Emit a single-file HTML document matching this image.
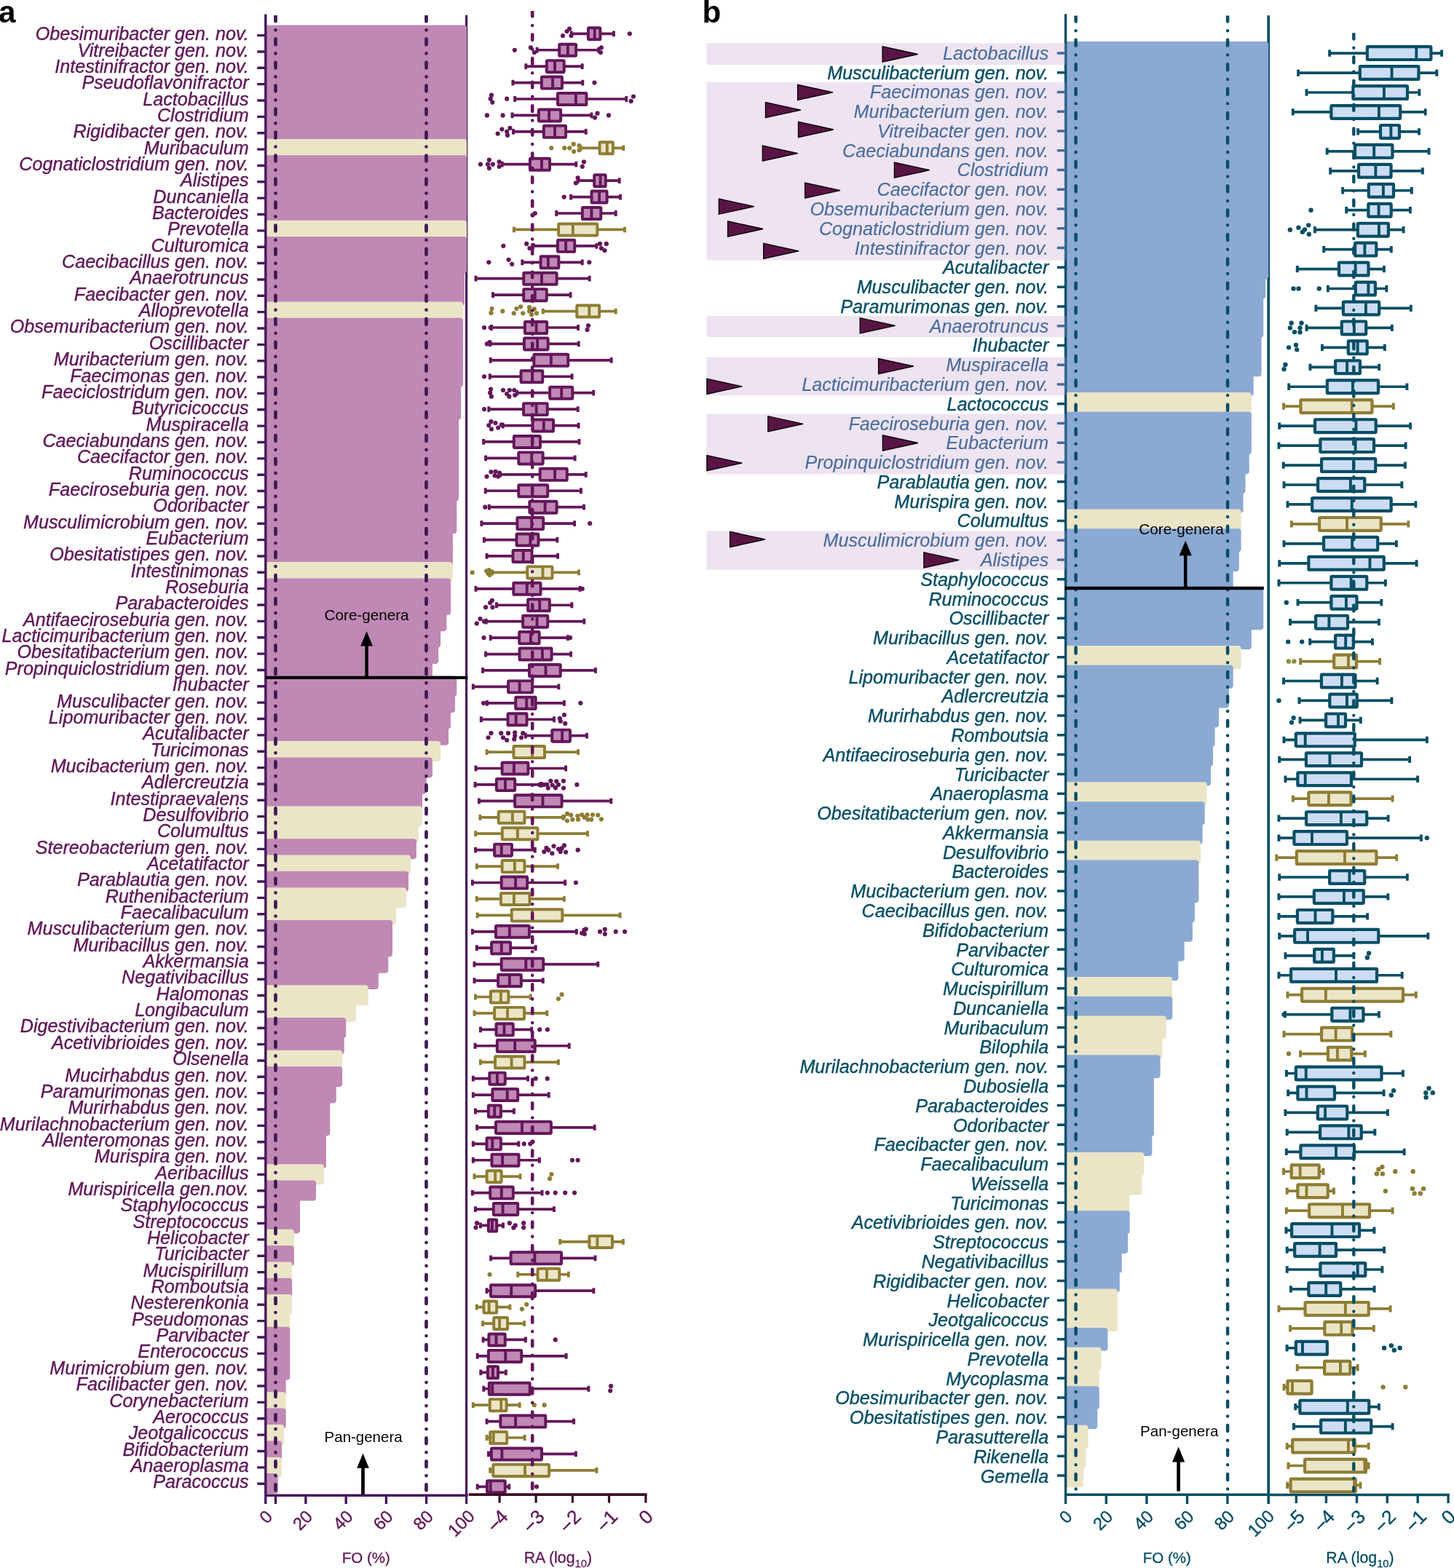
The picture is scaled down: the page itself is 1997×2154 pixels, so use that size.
<!DOCTYPE html>
<html lang="en"><head><meta charset="utf-8"><title>Figure</title>
<style>
html,body{margin:0;padding:0;background:#fff}
svg{display:block}
text{font-family:"Liberation Sans",Arial,Helvetica,sans-serif}
.la{font-style:italic;font-size:25.15px;fill:#5f1858;text-anchor:end;stroke:#5f1858;stroke-width:.4px}
.lb{font-style:italic;font-size:25.15px;fill:#074e65;text-anchor:end;stroke:#074e65;stroke-width:.4px}
.hl{fill:#466c9e;stroke:#466c9e;stroke-width:.12px}
.ta{font-size:26.5px;fill:#5f1858;text-anchor:end;stroke:#5f1858;stroke-width:.35px}
.tb{font-size:26.5px;fill:#074e65;text-anchor:end;stroke:#074e65;stroke-width:.35px}
.fo{font-size:24px}
.ann{font-size:20.3px;fill:#000}
.pl{font-weight:bold;font-size:42.3px;fill:#000}
</style></head>
<body>

<svg width="1997" height="2154" viewBox="0 0 1997 2154">
<rect width="1997" height="2154" fill="#fff"/>
<defs><clipPath id="cl-a"><rect x="360" y="21.1" width="300" height="2040"/></clipPath><clipPath id="cl-b"><rect x="1460" y="21.4" width="300" height="2040"/></clipPath><clipPath id="cl-ra"><rect x="700" y="15" width="60" height="2040"/></clipPath><clipPath id="cl-rb"><rect x="1830" y="45.3" width="60" height="2010"/></clipPath></defs>
<g id="panel-a">
<path d="M640.6 20.8V2066" stroke="#46175b" stroke-width="3.2" fill="none"/>
<g id="a-bars">
<path d="M364 34.4H638.6L641 36.8V60L638.6 62.4H364Z" fill="#c088b4"/>
<path d="M364 56.75H638.6L641 59.15V82.35L638.6 84.75H364Z" fill="#c088b4"/>
<path d="M364 79.11H638.6L641 81.51V104.71L638.6 107.11H364Z" fill="#c088b4"/>
<path d="M364 101.46H638.6L641 103.86V127.06L638.6 129.46H364Z" fill="#c088b4"/>
<path d="M364 123.82H638.6L641 126.22V149.42L638.6 151.82H364Z" fill="#c088b4"/>
<path d="M364 146.18H638.6L641 148.58V171.78L638.6 174.18H364Z" fill="#c088b4"/>
<path d="M364 168.53H638.6L641 170.93V194.13L638.6 196.53H364Z" fill="#c088b4"/>
<path d="M364 190.89H638.6L641 193.29V216.49L638.6 218.89H364Z" fill="#ebe5c8"/>
<path d="M364 213.24H638.6L641 215.64V238.84L638.6 241.24H364Z" fill="#c088b4"/>
<path d="M364 235.59H638.6L641 238V261.2L638.6 263.6H364Z" fill="#c088b4"/>
<path d="M364 257.95H638.6L641 260.35V283.55L638.6 285.95H364Z" fill="#c088b4"/>
<path d="M364 280.31H638.6L641 282.7V305.91L638.6 308.31H364Z" fill="#c088b4"/>
<path d="M364 302.66H638.6L641 305.06V328.26L638.6 330.66H364Z" fill="#ebe5c8"/>
<path d="M364 325.02H638.6L641 327.42V350.62L638.6 353.02H364Z" fill="#c088b4"/>
<path d="M364 347.37H638.6L641 349.77V372.97L638.6 375.37H364Z" fill="#c088b4"/>
<path d="M364 369.73H635.6L638 372.12V395.33L635.6 397.73H364Z" fill="#c088b4"/>
<path d="M364 392.08H635.6L638 394.48V417.68L635.6 420.08H364Z" fill="#c088b4"/>
<path d="M364 414.44H633.6L636 416.84V440.04L633.6 442.44H364Z" fill="#ebe5c8"/>
<path d="M364 436.79H633.6L636 439.19V462.39L633.6 464.79H364Z" fill="#c088b4"/>
<path d="M364 459.15H633.6L636 461.55V484.75L633.6 487.15H364Z" fill="#c088b4"/>
<path d="M364 481.5H633.6L636 483.9V507.1L633.6 509.5H364Z" fill="#c088b4"/>
<path d="M364 503.85H633.6L636 506.25V529.46L633.6 531.86H364Z" fill="#c088b4"/>
<path d="M364 526.21H630.8L633.2 528.61V551.81L630.8 554.21H364Z" fill="#c088b4"/>
<path d="M364 548.56H630.8L633.2 550.96V574.16L630.8 576.56H364Z" fill="#c088b4"/>
<path d="M364 570.92H627.8L630.2 573.32V596.52L627.8 598.92H364Z" fill="#c088b4"/>
<path d="M364 593.27H627.8L630.2 595.67V618.88L627.8 621.27H364Z" fill="#c088b4"/>
<path d="M364 615.63H627.8L630.2 618.03V641.23L627.8 643.63H364Z" fill="#c088b4"/>
<path d="M364 637.99H627.8L630.2 640.38V663.59L627.8 665.99H364Z" fill="#c088b4"/>
<path d="M364 660.34H627.8L630.2 662.74V685.94L627.8 688.34H364Z" fill="#c088b4"/>
<path d="M364 682.69H624.9L627.3 685.09V708.29L624.9 710.69H364Z" fill="#c088b4"/>
<path d="M364 705.05H624.9L627.3 707.45V730.65L624.9 733.05H364Z" fill="#c088b4"/>
<path d="M364 727.4H619.5L621.9 729.8V753L619.5 755.4H364Z" fill="#c088b4"/>
<path d="M364 749.76H619.5L621.9 752.16V775.36L619.5 777.76H364Z" fill="#c088b4"/>
<path d="M364 772.12H619.2L621.6 774.51V797.72L619.2 800.12H364Z" fill="#ebe5c8"/>
<path d="M364 794.47H616.6L619 796.87V820.07L616.6 822.47H364Z" fill="#c088b4"/>
<path d="M364 816.83H616.6L619 819.23V842.43L616.6 844.83H364Z" fill="#c088b4"/>
<path d="M364 839.18H611L613.4 841.58V864.78L611 867.18H364Z" fill="#c088b4"/>
<path d="M364 861.53H602.7L605.1 863.93V887.13L602.7 889.53H364Z" fill="#c088b4"/>
<path d="M364 883.89H599.8L602.2 886.29V909.49L599.8 911.89H364Z" fill="#c088b4"/>
<path d="M364 906.25H591.5L593.9 908.64V931.85L591.5 934.25H364Z" fill="#c088b4"/>
<path d="M364 928.6H624.9L627.3 931V954.2L624.9 956.6H364Z" fill="#c088b4"/>
<path d="M364 950.96H622.6L625 953.36V976.56L622.6 978.96H364Z" fill="#c088b4"/>
<path d="M364 973.31H616.6L619 975.71V998.91L616.6 1001.31H364Z" fill="#c088b4"/>
<path d="M364 995.66H613.6L616 998.06V1021.26L613.6 1023.66H364Z" fill="#c088b4"/>
<path d="M364 1018.02H602.7L605.1 1020.42V1043.62L602.7 1046.02H364Z" fill="#ebe5c8"/>
<path d="M364 1040.38H591.5L593.9 1042.78V1065.97L591.5 1068.38H364Z" fill="#c088b4"/>
<path d="M364 1062.73H583.3L585.7 1065.13V1088.33L583.3 1090.73H364Z" fill="#c088b4"/>
<path d="M364 1085.08H577.6L580 1087.48V1110.68L577.6 1113.08H364Z" fill="#c088b4"/>
<path d="M364 1107.44H577.6L580 1109.84V1133.04L577.6 1135.44H364Z" fill="#ebe5c8"/>
<path d="M364 1129.79H572.4L574.8 1132.19V1155.39L572.4 1157.79H364Z" fill="#ebe5c8"/>
<path d="M364 1152.15H569.5L571.9 1154.55V1177.75L569.5 1180.15H364Z" fill="#c088b4"/>
<path d="M364 1174.5H561.5L563.9 1176.9V1200.1L561.5 1202.5H364Z" fill="#ebe5c8"/>
<path d="M364 1196.86H558.6L561 1199.26V1222.46L558.6 1224.86H364Z" fill="#c088b4"/>
<path d="M364 1219.21H555.6L558 1221.62V1244.81L555.6 1247.21H364Z" fill="#ebe5c8"/>
<path d="M364 1241.57H541.8L544.2 1243.97V1267.17L541.8 1269.57H364Z" fill="#ebe5c8"/>
<path d="M364 1263.92H536.6L539 1266.33V1289.52L536.6 1291.92H364Z" fill="#c088b4"/>
<path d="M364 1286.28H536.6L539 1288.68V1311.88L536.6 1314.28H364Z" fill="#c088b4"/>
<path d="M364 1308.63H530.9L533.3 1311.04V1334.23L530.9 1336.63H364Z" fill="#c088b4"/>
<path d="M364 1330.99H517.4L519.8 1333.39V1356.59L517.4 1358.99H364Z" fill="#c088b4"/>
<path d="M364 1353.34H503.5L505.9 1355.74V1378.94L503.5 1381.34H364Z" fill="#ebe5c8"/>
<path d="M364 1375.7H486.7L489.1 1378.1V1401.3L486.7 1403.7H364Z" fill="#ebe5c8"/>
<path d="M364 1398.05H472.9L475.3 1400.45V1423.65L472.9 1426.05H364Z" fill="#c088b4"/>
<path d="M364 1420.41H470.3L472.7 1422.81V1446.01L470.3 1448.41H364Z" fill="#c088b4"/>
<path d="M364 1442.76H467.7L470.1 1445.16V1468.36L467.7 1470.76H364Z" fill="#ebe5c8"/>
<path d="M364 1465.12H467.7L470.1 1467.52V1490.72L467.7 1493.12H364Z" fill="#c088b4"/>
<path d="M364 1487.47H459.4L461.8 1489.88V1513.07L459.4 1515.47H364Z" fill="#c088b4"/>
<path d="M364 1509.83H450.9L453.3 1512.23V1535.43L450.9 1537.83H364Z" fill="#c088b4"/>
<path d="M364 1532.18H450.9L453.3 1534.59V1557.78L450.9 1560.18H364Z" fill="#c088b4"/>
<path d="M364 1554.54H445.5L447.9 1556.94V1580.14L445.5 1582.54H364Z" fill="#c088b4"/>
<path d="M364 1576.89H445.5L447.9 1579.3V1602.49L445.5 1604.89H364Z" fill="#c088b4"/>
<path d="M364 1599.25H442.6L445 1601.65V1624.85L442.6 1627.25H364Z" fill="#ebe5c8"/>
<path d="M364 1621.6H431.7L434.1 1624V1647.2L431.7 1649.6H364Z" fill="#c088b4"/>
<path d="M364 1643.96H409.7L412.1 1646.36V1669.56L409.7 1671.96H364Z" fill="#c088b4"/>
<path d="M364 1666.31H409.7L412.1 1668.71V1691.91L409.7 1694.31H364Z" fill="#c088b4"/>
<path d="M364 1688.67H401.5L403.9 1691.07V1714.27L401.5 1716.67H364Z" fill="#ebe5c8"/>
<path d="M364 1711.02H401.5L403.9 1713.42V1736.62L401.5 1739.02H364Z" fill="#c088b4"/>
<path d="M364 1733.38H398.8L401.2 1735.78V1758.98L398.8 1761.38H364Z" fill="#ebe5c8"/>
<path d="M364 1755.73H398.8L401.2 1758.13V1781.33L398.8 1783.73H364Z" fill="#c088b4"/>
<path d="M364 1778.09H398.8L401.2 1780.49V1803.69L398.8 1806.09H364Z" fill="#ebe5c8"/>
<path d="M364 1800.44H396L398.4 1802.85V1826.04L396 1828.44H364Z" fill="#ebe5c8"/>
<path d="M364 1822.8H396L398.4 1825.2V1848.4L396 1850.8H364Z" fill="#c088b4"/>
<path d="M364 1845.15H396L398.4 1847.56V1870.75L396 1873.15H364Z" fill="#c088b4"/>
<path d="M364 1867.51H396L398.4 1869.91V1893.11L396 1895.51H364Z" fill="#c088b4"/>
<path d="M364 1889.87H390.3L392.7 1892.27V1915.46L390.3 1917.87H364Z" fill="#c088b4"/>
<path d="M364 1912.22H390.3L392.7 1914.62V1937.82L390.3 1940.22H364Z" fill="#ebe5c8"/>
<path d="M364 1934.57H390.3L392.7 1936.97V1960.17L390.3 1962.57H364Z" fill="#c088b4"/>
<path d="M364 1956.93H387.7L390.1 1959.33V1982.53L387.7 1984.93H364Z" fill="#ebe5c8"/>
<path d="M364 1979.28H384.6L387 1981.68V2004.88L384.6 2007.28H364Z" fill="#c088b4"/>
<path d="M364 2001.64H384.6L387 2004.04V2027.24L384.6 2029.64H364Z" fill="#ebe5c8"/>
<path d="M364 2023.99H379.4L381.8 2026.39V2049.59L379.4 2051.99H364Z" fill="#c088b4"/>
</g>
<g id="a-labels">
<text class="la" x="341.7" y="55.2">Obesimuribacter gen. nov.</text>
<text class="la" x="341.7" y="77.55">Vitreibacter gen. nov.</text>
<text class="la" x="341.7" y="99.9">Intestinifractor gen. nov.</text>
<text class="la" x="341.7" y="122.25">Pseudoflavonifractor</text>
<text class="la" x="341.7" y="144.6">Lactobacillus</text>
<text class="la" x="341.7" y="166.94">Clostridium</text>
<text class="la" x="341.7" y="189.29">Rigidibacter gen. nov.</text>
<text class="la" x="341.7" y="211.64">Muribaculum</text>
<text class="la" x="341.7" y="233.99">Cognaticlostridium gen. nov.</text>
<text class="la" x="341.7" y="256.34">Alistipes</text>
<text class="la" x="341.7" y="278.69">Duncaniella</text>
<text class="la" x="341.7" y="301.04">Bacteroides</text>
<text class="la" x="341.7" y="323.39">Prevotella</text>
<text class="la" x="341.7" y="345.74">Culturomica</text>
<text class="la" x="341.7" y="368.09">Caecibacillus gen. nov.</text>
<text class="la" x="341.7" y="390.44">Anaerotruncus</text>
<text class="la" x="341.7" y="412.78">Faecibacter gen. nov.</text>
<text class="la" x="341.7" y="435.13">Alloprevotella</text>
<text class="la" x="341.7" y="457.48">Obsemuribacterium gen. nov.</text>
<text class="la" x="341.7" y="479.83">Oscillibacter</text>
<text class="la" x="341.7" y="502.18">Muribacterium gen. nov.</text>
<text class="la" x="341.7" y="524.53">Faecimonas gen. nov.</text>
<text class="la" x="341.7" y="546.88">Faeciclostridum gen. nov.</text>
<text class="la" x="341.7" y="569.23">Butyricicoccus</text>
<text class="la" x="341.7" y="591.58">Muspiracella</text>
<text class="la" x="341.7" y="613.93">Caeciabundans gen. nov.</text>
<text class="la" x="341.7" y="636.27">Caecifactor gen. nov.</text>
<text class="la" x="341.7" y="658.62">Ruminococcus</text>
<text class="la" x="341.7" y="680.97">Faeciroseburia gen. nov.</text>
<text class="la" x="341.7" y="703.32">Odoribacter</text>
<text class="la" x="341.7" y="725.67">Musculimicrobium gen. nov.</text>
<text class="la" x="341.7" y="748.02">Eubacterium</text>
<text class="la" x="341.7" y="770.37">Obesitatistipes gen. nov.</text>
<text class="la" x="341.7" y="792.72">Intestinimonas</text>
<text class="la" x="341.7" y="815.07">Roseburia</text>
<text class="la" x="341.7" y="837.42">Parabacteroides</text>
<text class="la" x="341.7" y="859.76">Antifaeciroseburia gen. nov.</text>
<text class="la" x="341.7" y="882.11">Lacticimuribacterium gen. nov.</text>
<text class="la" x="341.7" y="904.46">Obesitatibacterium gen. nov.</text>
<text class="la" x="341.7" y="926.81">Propinquiclostridium gen. nov.</text>
<text class="la" x="341.7" y="949.16">Ihubacter</text>
<text class="la" x="341.7" y="971.51">Musculibacter gen. nov.</text>
<text class="la" x="341.7" y="993.86">Lipomuribacter gen. nov.</text>
<text class="la" x="341.7" y="1016.21">Acutalibacter</text>
<text class="la" x="341.7" y="1038.56">Turicimonas</text>
<text class="la" x="341.7" y="1060.9">Mucibacterium gen. nov.</text>
<text class="la" x="341.7" y="1083.25">Adlercreutzia</text>
<text class="la" x="341.7" y="1105.6">Intestipraevalens</text>
<text class="la" x="341.7" y="1127.95">Desulfovibrio</text>
<text class="la" x="341.7" y="1150.3">Columultus</text>
<text class="la" x="341.7" y="1172.65">Stereobacterium gen. nov.</text>
<text class="la" x="341.7" y="1195">Acetatifactor</text>
<text class="la" x="341.7" y="1217.35">Parablautia gen. nov.</text>
<text class="la" x="341.7" y="1239.7">Ruthenibacterium</text>
<text class="la" x="341.7" y="1262.05">Faecalibaculum</text>
<text class="la" x="341.7" y="1284.39">Musculibacterium gen. nov.</text>
<text class="la" x="341.7" y="1306.74">Muribacillus gen. nov.</text>
<text class="la" x="341.7" y="1329.09">Akkermansia</text>
<text class="la" x="341.7" y="1351.44">Negativibacillus</text>
<text class="la" x="341.7" y="1373.79">Halomonas</text>
<text class="la" x="341.7" y="1396.14">Longibaculum</text>
<text class="la" x="341.7" y="1418.49">Digestivibacterium gen. nov.</text>
<text class="la" x="341.7" y="1440.84">Acetivibrioides gen. nov.</text>
<text class="la" x="341.7" y="1463.19">Olsenella</text>
<text class="la" x="341.7" y="1485.54">Mucirhabdus gen. nov.</text>
<text class="la" x="341.7" y="1507.88">Paramurimonas gen. nov.</text>
<text class="la" x="341.7" y="1530.23">Murirhabdus gen. nov.</text>
<text class="la" x="341.7" y="1552.58">Murilachnobacterium gen. nov.</text>
<text class="la" x="341.7" y="1574.93">Allenteromonas gen. nov.</text>
<text class="la" x="341.7" y="1597.28">Murispira gen. nov.</text>
<text class="la" x="341.7" y="1619.63">Aeribacillus</text>
<text class="la" x="341.7" y="1641.98">Murispiricella gen.nov.</text>
<text class="la" x="341.7" y="1664.33">Staphylococcus</text>
<text class="la" x="341.7" y="1686.68">Streptococcus</text>
<text class="la" x="341.7" y="1709.03">Helicobacter</text>
<text class="la" x="341.7" y="1731.38">Turicibacter</text>
<text class="la" x="341.7" y="1753.72">Mucispirillum</text>
<text class="la" x="341.7" y="1776.07">Romboutsia</text>
<text class="la" x="341.7" y="1798.42">Nesterenkonia</text>
<text class="la" x="341.7" y="1820.77">Pseudomonas</text>
<text class="la" x="341.7" y="1843.12">Parvibacter</text>
<text class="la" x="341.7" y="1865.47">Enterococcus</text>
<text class="la" x="341.7" y="1887.82">Murimicrobium gen. nov.</text>
<text class="la" x="341.7" y="1910.17">Facilibacter gen. nov.</text>
<text class="la" x="341.7" y="1932.52">Corynebacterium</text>
<text class="la" x="341.7" y="1954.87">Aerococcus</text>
<text class="la" x="341.7" y="1977.21">Jeotgalicoccus</text>
<text class="la" x="341.7" y="1999.56">Bifidobacterium</text>
<text class="la" x="341.7" y="2021.91">Anaeroplasma</text>
<text class="la" x="341.7" y="2044.26">Paracoccus</text>
</g>
<path d="M353.2 48.6H365M353.2 70.95H365M353.2 93.31H365M353.2 115.66H365M353.2 138.02H365M353.2 160.38H365M353.2 182.73H365M353.2 205.09H365M353.2 227.44H365M353.2 249.79H365M353.2 272.15H365M353.2 294.5H365M353.2 316.86H365M353.2 339.22H365M353.2 361.57H365M353.2 383.93H365M353.2 406.28H365M353.2 428.64H365M353.2 450.99H365M353.2 473.35H365M353.2 495.7H365M353.2 518.05H365M353.2 540.41H365M353.2 562.76H365M353.2 585.12H365M353.2 607.48H365M353.2 629.83H365M353.2 652.19H365M353.2 674.54H365M353.2 696.89H365M353.2 719.25H365M353.2 741.61H365M353.2 763.96H365M353.2 786.32H365M353.2 808.67H365M353.2 831.03H365M353.2 853.38H365M353.2 875.74H365M353.2 898.09H365M353.2 920.45H365M353.2 942.8H365M353.2 965.16H365M353.2 987.51H365M353.2 1009.87H365M353.2 1032.22H365M353.2 1054.58H365M353.2 1076.93H365M353.2 1099.28H365M353.2 1121.64H365M353.2 1143.99H365M353.2 1166.35H365M353.2 1188.7H365M353.2 1211.06H365M353.2 1233.41H365M353.2 1255.77H365M353.2 1278.12H365M353.2 1300.48H365M353.2 1322.84H365M353.2 1345.19H365M353.2 1367.54H365M353.2 1389.9H365M353.2 1412.25H365M353.2 1434.61H365M353.2 1456.96H365M353.2 1479.32H365M353.2 1501.67H365M353.2 1524.03H365M353.2 1546.38H365M353.2 1568.74H365M353.2 1591.1H365M353.2 1613.45H365M353.2 1635.8H365M353.2 1658.16H365M353.2 1680.51H365M353.2 1702.87H365M353.2 1725.22H365M353.2 1747.58H365M353.2 1769.93H365M353.2 1792.29H365M353.2 1814.64H365M353.2 1837H365M353.2 1859.36H365M353.2 1881.71H365M353.2 1904.07H365M353.2 1926.42H365M353.2 1948.77H365M353.2 1971.13H365M353.2 1993.48H365M353.2 2015.84H365M353.2 2038.19H365" stroke="#46175b" stroke-width="3.4" fill="none"/>
<path d="M378.5 15V2050.5" clip-path="url(#cl-a)" stroke="#3f1a52" stroke-width="4.7" stroke-linecap="round" stroke-dasharray="7.8 12.110 0.01 12.110" stroke-dashoffset="25.590" fill="none"/>
<path d="M585.5 15V2050.5" clip-path="url(#cl-a)" stroke="#3f1a52" stroke-width="4.7" stroke-linecap="round" stroke-dasharray="7.8 12.110 0.01 12.110" stroke-dashoffset="25.590" fill="none"/>
<path d="M503.6 931V886" stroke="#000" stroke-width="4.5" fill="none"/>
<path d="M503.6 867.2L511.9 887.4H495.3Z" fill="#000"/>
<text class="ann" x="445.6" y="851.6" textLength="116" lengthAdjust="spacingAndGlyphs">Core-genera</text>
<path d="M498.5 2054V2015" stroke="#000" stroke-width="4.7" fill="none"/>
<path d="M498.5 1996.4L506.8 2016.8H490.2Z" fill="#000"/>
<text class="ann" x="445.6" y="1981.2" textLength="107" lengthAdjust="spacingAndGlyphs">Pan-genera</text>
<path d="M364.8 19.5V2066M363.1 2054.3H642.7" stroke="#46175b" stroke-width="3.4" fill="none"/>
<path d="M378.5 2054V2066M419.9 2054V2066M475.2 2054V2066M530.4 2054V2066M585.6 2054V2066" stroke="#46175b" stroke-width="3.4" fill="none"/>
<path d="M365 930.9H642.4" stroke="#000" stroke-width="4.3" fill="none"/>
<text class="ta fo" transform="translate(375.7 2084.7) rotate(-45)">0</text>
<text class="ta fo" transform="translate(430.8 2084.7) rotate(-45)">20</text>
<text class="ta fo" transform="translate(486.1 2084.7) rotate(-45)">40</text>
<text class="ta fo" transform="translate(541.3 2084.7) rotate(-45)">60</text>
<text class="ta fo" transform="translate(596.5 2084.7) rotate(-45)">80</text>
<text class="ta fo" transform="translate(653.4 2084.2) rotate(-45)">100</text>
<text x="502.8" y="2147.3" style="font-size:20.5px;fill:#5f1858;text-anchor:middle;stroke:#5f1858;stroke-width:.3px">FO (%)</text>
<g id="a-ra">
<path d="M784.84 46.3H807.93M824.39 46.3H842.98" stroke="#63165a" stroke-width="3.7" fill="none"/><path d="M784.84 42.4V50.2M842.98 42.4V50.2" stroke="#63165a" stroke-width="3.9" fill="none"/><rect x="807.93" y="38.27" width="16.47" height="16.05" rx="1.1" fill="#c088b4" stroke="#63165a" stroke-width="3.95"/><path d="M816.67 38.27V54.32" stroke="#63165a" stroke-width="3.9" fill="none"/><circle cx="773.06" cy="49.06" r="3.1" fill="#63165a"/><circle cx="778.58" cy="42.99" r="3.1" fill="#63165a"/><circle cx="782.08" cy="39.68" r="3.1" fill="#63165a"/><circle cx="784.47" cy="49.06" r="3.1" fill="#63165a"/><circle cx="864.88" cy="46.3" r="3.1" fill="#63165a"/>
<path d="M737.55 68.73H768.18M791.09 68.73H822.19" stroke="#63165a" stroke-width="3.7" fill="none"/><path d="M737.55 64.83V72.63M822.19 64.83V72.63" stroke="#63165a" stroke-width="3.9" fill="none"/><rect x="768.18" y="60.7" width="22.91" height="16.05" rx="1.1" fill="#c088b4" stroke="#63165a" stroke-width="3.95"/><path d="M779.87 60.7V76.75" stroke="#63165a" stroke-width="3.9" fill="none"/><circle cx="706.83" cy="68.73" r="3.1" fill="#63165a"/><circle cx="728.91" cy="65.42" r="3.1" fill="#63165a"/><circle cx="733.87" cy="72.04" r="3.1" fill="#63165a"/><circle cx="825.87" cy="65.42" r="3.1" fill="#63165a"/><circle cx="824.95" cy="72.04" r="3.1" fill="#63165a"/>
<path d="M722.28 91.15H750.89M774.72 91.15H799.74" stroke="#63165a" stroke-width="3.7" fill="none"/><path d="M722.28 87.25V95.05M799.74 87.25V95.05" stroke="#63165a" stroke-width="3.9" fill="none"/><rect x="750.89" y="83.13" width="23.83" height="16.05" rx="1.1" fill="#c088b4" stroke="#63165a" stroke-width="3.95"/><path d="M762.02 83.13V99.18" stroke="#63165a" stroke-width="3.9" fill="none"/>
<path d="M704.43 113.58H743.9M771.96 113.58H800.29" stroke="#63165a" stroke-width="3.7" fill="none"/><path d="M704.43 109.68V117.48M800.29 109.68V117.48" stroke="#63165a" stroke-width="3.9" fill="none"/><rect x="743.9" y="105.56" width="28.06" height="16.05" rx="1.1" fill="#c088b4" stroke="#63165a" stroke-width="3.95"/><path d="M759.08 105.56V121.61" stroke="#63165a" stroke-width="3.9" fill="none"/><circle cx="816.49" cy="113.58" r="3.1" fill="#63165a"/>
<path d="M707.19 136.01H765.97M805.44 136.01H860.28" stroke="#63165a" stroke-width="3.7" fill="none"/><path d="M707.19 132.11V139.91M860.28 132.11V139.91" stroke="#63165a" stroke-width="3.9" fill="none"/><rect x="765.97" y="127.98" width="39.47" height="16.05" rx="1.1" fill="#c088b4" stroke="#63165a" stroke-width="3.95"/><path d="M790.91 127.98V144.03" stroke="#63165a" stroke-width="3.9" fill="none"/><circle cx="675" cy="130.67" r="3.1" fill="#63165a"/><circle cx="673.71" cy="135.64" r="3.1" fill="#63165a"/><circle cx="676.28" cy="140.61" r="3.1" fill="#63165a"/><circle cx="696.15" cy="135.64" r="3.1" fill="#63165a"/><circle cx="870.03" cy="132.51" r="3.1" fill="#63165a"/><circle cx="866.72" cy="138.95" r="3.1" fill="#63165a"/>
<path d="M703.51 158.44H739.85M770.12 158.44H812.44" stroke="#63165a" stroke-width="3.7" fill="none"/><path d="M703.51 154.53V162.34M812.44 154.53V162.34" stroke="#63165a" stroke-width="3.9" fill="none"/><rect x="739.85" y="150.41" width="30.27" height="16.05" rx="1.1" fill="#c088b4" stroke="#63165a" stroke-width="3.95"/><path d="M754.11 150.41V166.46" stroke="#63165a" stroke-width="3.9" fill="none"/><circle cx="668.92" cy="158.44" r="3.1" fill="#63165a"/><circle cx="690.63" cy="158.44" r="3.1" fill="#63165a"/><circle cx="820.53" cy="155.68" r="3.1" fill="#63165a"/><circle cx="817.04" cy="161.56" r="3.1" fill="#63165a"/><circle cx="835.99" cy="158.44" r="3.1" fill="#63165a"/>
<path d="M704.99 180.86H746.84M777.11 180.86H804.71" stroke="#63165a" stroke-width="3.7" fill="none"/><path d="M704.99 176.96V184.76M804.71 176.96V184.76" stroke="#63165a" stroke-width="3.9" fill="none"/><rect x="746.84" y="172.84" width="30.27" height="16.05" rx="1.1" fill="#c088b4" stroke="#63165a" stroke-width="3.95"/><path d="M762.02 172.84V188.89" stroke="#63165a" stroke-width="3.9" fill="none"/><circle cx="683.64" cy="183.62" r="3.1" fill="#63165a"/><circle cx="689.35" cy="177.55" r="3.1" fill="#63165a"/><circle cx="696.15" cy="180.86" r="3.1" fill="#63165a"/><circle cx="697.07" cy="185.83" r="3.1" fill="#63165a"/><circle cx="700.39" cy="175.89" r="3.1" fill="#63165a"/>
<path d="M797.35 203.29H823.56M841.87 203.29H856.23" stroke="#8e7d34" stroke-width="3.7" fill="none"/><path d="M797.35 199.39V207.19M856.23 199.39V207.19" stroke="#8e7d34" stroke-width="3.9" fill="none"/><rect x="823.56" y="195.26" width="18.31" height="16.05" rx="1.1" fill="#ebe5c8" stroke="#8e7d34" stroke-width="3.95"/><path d="M833.78 195.26V211.31" stroke="#8e7d34" stroke-width="3.9" fill="none"/><circle cx="757.24" cy="203.29" r="3.1" fill="#8e7d34"/><circle cx="775.27" cy="203.29" r="3.1" fill="#8e7d34"/><circle cx="782.26" cy="203.29" r="3.1" fill="#8e7d34"/><circle cx="787.78" cy="197.95" r="3.1" fill="#8e7d34"/><circle cx="788.15" cy="208.07" r="3.1" fill="#8e7d34"/><circle cx="795.51" cy="200.16" r="3.1" fill="#8e7d34"/><circle cx="795.51" cy="206.23" r="3.1" fill="#8e7d34"/>
<path d="M689.71 225.72H727.89M755.03 225.72H791.28" stroke="#63165a" stroke-width="3.7" fill="none"/><path d="M689.71 221.82V229.62M791.28 221.82V229.62" stroke="#63165a" stroke-width="3.9" fill="none"/><rect x="727.89" y="217.69" width="27.14" height="16.05" rx="1.1" fill="#c088b4" stroke="#63165a" stroke-width="3.95"/><path d="M743.99 217.69V233.74" stroke="#63165a" stroke-width="3.9" fill="none"/><circle cx="659.91" cy="225.72" r="3.1" fill="#63165a"/><circle cx="671.87" cy="219.64" r="3.1" fill="#63165a"/><circle cx="670.03" cy="225.72" r="3.1" fill="#63165a"/><circle cx="671.87" cy="231.05" r="3.1" fill="#63165a"/><circle cx="676.84" cy="225.72" r="3.1" fill="#63165a"/><circle cx="685.67" cy="222.4" r="3.1" fill="#63165a"/><circle cx="685.67" cy="228.84" r="3.1" fill="#63165a"/><circle cx="801.95" cy="222.4" r="3.1" fill="#63165a"/><circle cx="799.74" cy="228.84" r="3.1" fill="#63165a"/>
<path d="M793.67 248.14H816.2M831.75 248.14H850.71" stroke="#63165a" stroke-width="3.7" fill="none"/><path d="M793.67 244.24V252.04M850.71 244.24V252.04" stroke="#63165a" stroke-width="3.9" fill="none"/><rect x="816.2" y="240.12" width="15.55" height="16.05" rx="1.1" fill="#c088b4" stroke="#63165a" stroke-width="3.95"/><path d="M824.58 240.12V256.17" stroke="#63165a" stroke-width="3.9" fill="none"/><circle cx="793.67" cy="244.46" r="3.1" fill="#63165a"/><circle cx="790.91" cy="251.45" r="3.1" fill="#63165a"/>
<path d="M784.1 270.57H812.52M833.59 270.57H852" stroke="#63165a" stroke-width="3.7" fill="none"/><path d="M784.1 266.67V274.47M852 266.67V274.47" stroke="#63165a" stroke-width="3.9" fill="none"/><rect x="812.52" y="262.55" width="21.07" height="16.05" rx="1.1" fill="#c088b4" stroke="#63165a" stroke-width="3.95"/><path d="M823.11 262.55V278.59" stroke="#63165a" stroke-width="3.9" fill="none"/><circle cx="774.72" cy="270.57" r="3.1" fill="#63165a"/>
<path d="M764.23 293H799.83M825.31 293H845.74" stroke="#63165a" stroke-width="3.7" fill="none"/><path d="M764.23 289.1V296.9M845.74 289.1V296.9" stroke="#63165a" stroke-width="3.9" fill="none"/><rect x="799.83" y="284.97" width="25.48" height="16.05" rx="1.1" fill="#c088b4" stroke="#63165a" stroke-width="3.95"/><path d="M812.44 284.97V301.02" stroke="#63165a" stroke-width="3.9" fill="none"/><circle cx="734.79" cy="293" r="3.1" fill="#63165a"/><circle cx="731.48" cy="295.57" r="3.1" fill="#63165a"/>
<path d="M705.91 315.42H767.08M820.35 315.42H858.07" stroke="#8e7d34" stroke-width="3.7" fill="none"/><path d="M705.91 311.52V319.32M858.07 311.52V319.32" stroke="#8e7d34" stroke-width="3.9" fill="none"/><rect x="767.08" y="307.4" width="53.27" height="16.05" rx="1.1" fill="#ebe5c8" stroke="#8e7d34" stroke-width="3.95"/><path d="M786.86 307.4V323.45" stroke="#8e7d34" stroke-width="3.9" fill="none"/>
<path d="M732.03 337.85H765.97M789.25 337.85H819.43" stroke="#63165a" stroke-width="3.7" fill="none"/><path d="M732.03 333.95V341.75M819.43 333.95V341.75" stroke="#63165a" stroke-width="3.9" fill="none"/><rect x="765.97" y="329.83" width="23.28" height="16.05" rx="1.1" fill="#c088b4" stroke="#63165a" stroke-width="3.95"/><path d="M777.11 329.83V345.88" stroke="#63165a" stroke-width="3.9" fill="none"/><circle cx="691.37" cy="337.85" r="3.1" fill="#63165a"/><circle cx="723.2" cy="334.91" r="3.1" fill="#63165a"/><circle cx="727.43" cy="340.98" r="3.1" fill="#63165a"/><circle cx="732.03" cy="336.93" r="3.1" fill="#63165a"/><circle cx="824.03" cy="334.91" r="3.1" fill="#63165a"/><circle cx="825.87" cy="340.98" r="3.1" fill="#63165a"/><circle cx="832.86" cy="334.91" r="3.1" fill="#63165a"/><circle cx="830.47" cy="344.11" r="3.1" fill="#63165a"/>
<path d="M717.31 360.28H742.61M767.36 360.28H799.74" stroke="#63165a" stroke-width="3.7" fill="none"/><path d="M717.31 356.38V364.18M799.74 356.38V364.18" stroke="#63165a" stroke-width="3.9" fill="none"/><rect x="742.61" y="352.25" width="24.75" height="16.05" rx="1.1" fill="#c088b4" stroke="#63165a" stroke-width="3.95"/><path d="M752.82 352.25V368.3" stroke="#63165a" stroke-width="3.9" fill="none"/><circle cx="671.32" cy="360.28" r="3.1" fill="#63165a"/><circle cx="698.55" cy="356.78" r="3.1" fill="#63165a"/><circle cx="703.15" cy="362.85" r="3.1" fill="#63165a"/><circle cx="809.31" cy="360.28" r="3.1" fill="#63165a"/>
<path d="M653.47 382.7H719.24M764.6 382.7H809.68" stroke="#63165a" stroke-width="3.7" fill="none"/><path d="M653.47 378.81V386.6M809.68 378.81V386.6" stroke="#63165a" stroke-width="3.9" fill="none"/><rect x="719.24" y="374.68" width="45.36" height="16.05" rx="1.1" fill="#c088b4" stroke="#63165a" stroke-width="3.95"/><path d="M743.99 374.68V390.73" stroke="#63165a" stroke-width="3.9" fill="none"/>
<path d="M677.02 405.13H719.24M750.8 405.13H783.55" stroke="#63165a" stroke-width="3.7" fill="none"/><path d="M677.02 401.23V409.03M783.55 401.23V409.03" stroke="#63165a" stroke-width="3.9" fill="none"/><rect x="719.24" y="397.11" width="31.56" height="16.05" rx="1.1" fill="#c088b4" stroke="#63165a" stroke-width="3.95"/><path d="M734.79 397.11V413.16" stroke="#63165a" stroke-width="3.9" fill="none"/>
<path d="M745.83 427.56H792.29M823.11 427.56H845.74" stroke="#8e7d34" stroke-width="3.7" fill="none"/><path d="M745.83 423.66V431.46M845.74 423.66V431.46" stroke="#8e7d34" stroke-width="3.9" fill="none"/><rect x="792.29" y="419.53" width="30.82" height="16.05" rx="1.1" fill="#ebe5c8" stroke="#8e7d34" stroke-width="3.95"/><path d="M809.31 419.53V435.58" stroke="#8e7d34" stroke-width="3.9" fill="none"/><circle cx="675.55" cy="424.06" r="3.1" fill="#8e7d34"/><circle cx="674.44" cy="429.95" r="3.1" fill="#8e7d34"/><circle cx="690.27" cy="427.38" r="3.1" fill="#8e7d34"/><circle cx="705.72" cy="430.32" r="3.1" fill="#8e7d34"/><circle cx="709.4" cy="424.06" r="3.1" fill="#8e7d34"/><circle cx="715.11" cy="421.3" r="3.1" fill="#8e7d34"/><circle cx="718.23" cy="430.32" r="3.1" fill="#8e7d34"/><circle cx="727.07" cy="422.22" r="3.1" fill="#8e7d34"/><circle cx="727.07" cy="427.56" r="3.1" fill="#8e7d34"/><circle cx="730.19" cy="432.16" r="3.1" fill="#8e7d34"/><circle cx="733.87" cy="424.43" r="3.1" fill="#8e7d34"/><circle cx="737" cy="430.32" r="3.1" fill="#8e7d34"/>
<path d="M675 449.99H720.9M751.17 449.99H794.04" stroke="#63165a" stroke-width="3.7" fill="none"/><path d="M675 446.09V453.89M794.04 446.09V453.89" stroke="#63165a" stroke-width="3.9" fill="none"/><rect x="720.9" y="441.96" width="30.27" height="16.05" rx="1.1" fill="#c088b4" stroke="#63165a" stroke-width="3.95"/><path d="M736.63 441.96V458.01" stroke="#63165a" stroke-width="3.9" fill="none"/><circle cx="665.06" cy="449.99" r="3.1" fill="#63165a"/><circle cx="673.71" cy="449.99" r="3.1" fill="#63165a"/><circle cx="808.02" cy="447.23" r="3.1" fill="#63165a"/><circle cx="806.55" cy="453.11" r="3.1" fill="#63165a"/>
<path d="M673.16 472.41H719.98M752.64 472.41H794.77" stroke="#63165a" stroke-width="3.7" fill="none"/><path d="M673.16 468.51V476.31M794.77 468.51V476.31" stroke="#63165a" stroke-width="3.9" fill="none"/><rect x="719.98" y="464.39" width="32.66" height="16.05" rx="1.1" fill="#c088b4" stroke="#63165a" stroke-width="3.95"/><path d="M738.1 464.39V480.44" stroke="#63165a" stroke-width="3.9" fill="none"/><circle cx="668.92" cy="472.41" r="3.1" fill="#63165a"/><circle cx="672.6" cy="470.21" r="3.1" fill="#63165a"/>
<path d="M673.71 494.84H733.41M780.24 494.84H839.67" stroke="#63165a" stroke-width="3.7" fill="none"/><path d="M673.71 490.94V498.74M839.67 490.94V498.74" stroke="#63165a" stroke-width="3.9" fill="none"/><rect x="733.41" y="486.81" width="46.83" height="16.05" rx="1.1" fill="#c088b4" stroke="#63165a" stroke-width="3.95"/><path d="M756.87 486.81V502.86" stroke="#63165a" stroke-width="3.9" fill="none"/>
<path d="M672.79 517.27H715.56M745.28 517.27H785.57" stroke="#63165a" stroke-width="3.7" fill="none"/><path d="M672.79 513.37V521.17M785.57 513.37V521.17" stroke="#63165a" stroke-width="3.9" fill="none"/><rect x="715.56" y="509.24" width="29.72" height="16.05" rx="1.1" fill="#c088b4" stroke="#63165a" stroke-width="3.95"/><path d="M731.11 509.24V525.29" stroke="#63165a" stroke-width="3.9" fill="none"/><circle cx="665.06" cy="517.27" r="3.1" fill="#63165a"/>
<path d="M709.95 539.69H755.12M786.31 539.69H815.2" stroke="#63165a" stroke-width="3.7" fill="none"/><path d="M709.95 535.79V543.59M815.2 535.79V543.59" stroke="#63165a" stroke-width="3.9" fill="none"/><rect x="755.12" y="531.67" width="31.19" height="16.05" rx="1.1" fill="#c088b4" stroke="#63165a" stroke-width="3.95"/><path d="M771.22 531.67V547.72" stroke="#63165a" stroke-width="3.9" fill="none"/><circle cx="674.08" cy="534.54" r="3.1" fill="#63165a"/><circle cx="673.16" cy="539.69" r="3.1" fill="#63165a"/><circle cx="675" cy="544.66" r="3.1" fill="#63165a"/><circle cx="691" cy="536.01" r="3.1" fill="#63165a"/><circle cx="696.15" cy="540.98" r="3.1" fill="#63165a"/><circle cx="699.28" cy="544.66" r="3.1" fill="#63165a"/><circle cx="699.83" cy="536.01" r="3.1" fill="#63165a"/><circle cx="706.27" cy="536.01" r="3.1" fill="#63165a"/><circle cx="707.19" cy="542.82" r="3.1" fill="#63165a"/>
<path d="M671.32 562.12H719.06M751.72 562.12H793.67" stroke="#63165a" stroke-width="3.7" fill="none"/><path d="M671.32 558.22V566.02M793.67 558.22V566.02" stroke="#63165a" stroke-width="3.9" fill="none"/><rect x="719.06" y="554.1" width="32.66" height="16.05" rx="1.1" fill="#c088b4" stroke="#63165a" stroke-width="3.95"/><path d="M736.63 554.1V570.15" stroke="#63165a" stroke-width="3.9" fill="none"/><circle cx="665.06" cy="562.12" r="3.1" fill="#63165a"/>
<path d="M690.63 584.55H731.57M760 584.55H794.59" stroke="#63165a" stroke-width="3.7" fill="none"/><path d="M690.63 580.65V588.45M794.59 580.65V588.45" stroke="#63165a" stroke-width="3.9" fill="none"/><rect x="731.57" y="576.52" width="28.43" height="16.05" rx="1.1" fill="#c088b4" stroke="#63165a" stroke-width="3.95"/><path d="M746.75 576.52V592.57" stroke="#63165a" stroke-width="3.9" fill="none"/><circle cx="674.44" cy="579.21" r="3.1" fill="#63165a"/><circle cx="671.32" cy="584.36" r="3.1" fill="#63165a"/><circle cx="675" cy="589.52" r="3.1" fill="#63165a"/><circle cx="680.52" cy="581.05" r="3.1" fill="#63165a"/><circle cx="684.2" cy="587.49" r="3.1" fill="#63165a"/><circle cx="688.79" cy="583.44" r="3.1" fill="#63165a"/>
<path d="M664.14 606.97H705.81M741.97 606.97H795.51" stroke="#63165a" stroke-width="3.7" fill="none"/><path d="M664.14 603.07V610.87M795.51 603.07V610.87" stroke="#63165a" stroke-width="3.9" fill="none"/><rect x="705.81" y="598.95" width="36.16" height="16.05" rx="1.1" fill="#c088b4" stroke="#63165a" stroke-width="3.95"/><path d="M731.11 598.95V615" stroke="#63165a" stroke-width="3.9" fill="none"/>
<path d="M667.08 629.4H712.25M745.65 629.4H789.62" stroke="#63165a" stroke-width="3.7" fill="none"/><path d="M667.08 625.5V633.3M789.62 625.5V633.3" stroke="#63165a" stroke-width="3.9" fill="none"/><rect x="712.25" y="621.38" width="33.4" height="16.05" rx="1.1" fill="#c088b4" stroke="#63165a" stroke-width="3.95"/><path d="M730.19 621.38V637.43" stroke="#63165a" stroke-width="3.9" fill="none"/>
<path d="M686.95 651.83H741.69M778.76 651.83H804.71" stroke="#63165a" stroke-width="3.7" fill="none"/><path d="M686.95 647.93V655.73M804.71 647.93V655.73" stroke="#63165a" stroke-width="3.9" fill="none"/><rect x="741.69" y="643.8" width="37.08" height="16.05" rx="1.1" fill="#c088b4" stroke="#63165a" stroke-width="3.95"/><path d="M762.02 643.8V659.85" stroke="#63165a" stroke-width="3.9" fill="none"/><circle cx="668.56" cy="654.59" r="3.1" fill="#63165a"/><circle cx="674.44" cy="648.33" r="3.1" fill="#63165a"/><circle cx="680.52" cy="647.78" r="3.1" fill="#63165a"/><circle cx="679.6" cy="653.3" r="3.1" fill="#63165a"/><circle cx="684.2" cy="654.59" r="3.1" fill="#63165a"/><circle cx="686.03" cy="649.62" r="3.1" fill="#63165a"/>
<path d="M666.72 674.26H712.25M752.27 674.26H797.9" stroke="#63165a" stroke-width="3.7" fill="none"/><path d="M666.72 670.36V678.16M797.9 670.36V678.16" stroke="#63165a" stroke-width="3.9" fill="none"/><rect x="712.25" y="666.23" width="40.02" height="16.05" rx="1.1" fill="#c088b4" stroke="#63165a" stroke-width="3.95"/><path d="M731.11 666.23V682.28" stroke="#63165a" stroke-width="3.9" fill="none"/>
<path d="M671.87 696.68H727.34M764.6 696.68H801.95" stroke="#63165a" stroke-width="3.7" fill="none"/><path d="M671.87 692.78V700.58M801.95 692.78V700.58" stroke="#63165a" stroke-width="3.9" fill="none"/><rect x="727.34" y="688.66" width="37.26" height="16.05" rx="1.1" fill="#c088b4" stroke="#63165a" stroke-width="3.95"/><path d="M748.59 688.66V704.71" stroke="#63165a" stroke-width="3.9" fill="none"/><circle cx="666.35" cy="696.68" r="3.1" fill="#63165a"/>
<path d="M661.38 719.11H710.41M746.2 719.11H789.07" stroke="#63165a" stroke-width="3.7" fill="none"/><path d="M661.38 715.21V723.01M789.07 715.21V723.01" stroke="#63165a" stroke-width="3.9" fill="none"/><rect x="710.41" y="711.08" width="35.79" height="16.05" rx="1.1" fill="#c088b4" stroke="#63165a" stroke-width="3.95"/><path d="M730.19 711.08V727.13" stroke="#63165a" stroke-width="3.9" fill="none"/><circle cx="810.23" cy="719.11" r="3.1" fill="#63165a"/>
<path d="M664.88 741.54H709.49M739.39 741.54H765.34" stroke="#63165a" stroke-width="3.7" fill="none"/><path d="M664.88 737.64V745.44M765.34 737.64V745.44" stroke="#63165a" stroke-width="3.9" fill="none"/><rect x="709.49" y="733.51" width="29.9" height="16.05" rx="1.1" fill="#c088b4" stroke="#63165a" stroke-width="3.95"/><path d="M728.35 733.51V749.56" stroke="#63165a" stroke-width="3.9" fill="none"/>
<path d="M668.56 763.96H704.52M730.56 763.96H766.07" stroke="#63165a" stroke-width="3.7" fill="none"/><path d="M668.56 760.06V767.86M766.07 760.06V767.86" stroke="#63165a" stroke-width="3.9" fill="none"/><rect x="704.52" y="755.94" width="26.04" height="16.05" rx="1.1" fill="#c088b4" stroke="#63165a" stroke-width="3.95"/><path d="M718.79 755.94V771.99" stroke="#63165a" stroke-width="3.9" fill="none"/>
<path d="M676.28 786.39H724.21M758.52 786.39H794.96" stroke="#8e7d34" stroke-width="3.7" fill="none"/><path d="M676.28 782.49V790.29M794.96 782.49V790.29" stroke="#8e7d34" stroke-width="3.9" fill="none"/><rect x="724.21" y="778.37" width="34.32" height="16.05" rx="1.1" fill="#ebe5c8" stroke="#8e7d34" stroke-width="3.95"/><path d="M745.46 778.37V794.42" stroke="#8e7d34" stroke-width="3.9" fill="none"/><circle cx="648.68" cy="786.39" r="3.1" fill="#8e7d34"/><circle cx="668.19" cy="784.37" r="3.1" fill="#8e7d34"/><circle cx="671.68" cy="783.08" r="3.1" fill="#8e7d34"/><circle cx="670.4" cy="787.68" r="3.1" fill="#8e7d34"/><circle cx="672.6" cy="789.89" r="3.1" fill="#8e7d34"/><circle cx="675" cy="785.84" r="3.1" fill="#8e7d34"/>
<path d="M653.47 808.82H705.26M742.52 808.82H796.43" stroke="#63165a" stroke-width="3.7" fill="none"/><path d="M653.47 804.92V812.72M796.43 804.92V812.72" stroke="#63165a" stroke-width="3.9" fill="none"/><rect x="705.26" y="800.79" width="37.26" height="16.05" rx="1.1" fill="#c088b4" stroke="#63165a" stroke-width="3.95"/><path d="M723.75 800.79V816.84" stroke="#63165a" stroke-width="3.9" fill="none"/><circle cx="799.74" cy="808.82" r="3.1" fill="#63165a"/>
<path d="M681.99 831.24H725.13M754.85 831.24H785.39" stroke="#63165a" stroke-width="3.7" fill="none"/><path d="M681.99 827.34V835.14M785.39 827.34V835.14" stroke="#63165a" stroke-width="3.9" fill="none"/><rect x="725.13" y="823.22" width="29.72" height="16.05" rx="1.1" fill="#c088b4" stroke="#63165a" stroke-width="3.95"/><path d="M741.23 823.22V839.27" stroke="#63165a" stroke-width="3.9" fill="none"/><circle cx="667.08" cy="834.19" r="3.1" fill="#63165a"/><circle cx="673.16" cy="828.12" r="3.1" fill="#63165a"/><circle cx="675.92" cy="824.81" r="3.1" fill="#63165a"/><circle cx="676.47" cy="834.19" r="3.1" fill="#63165a"/>
<path d="M667.64 853.67H718.14M752.27 853.67H802.32" stroke="#63165a" stroke-width="3.7" fill="none"/><path d="M667.64 849.77V857.57M802.32 849.77V857.57" stroke="#63165a" stroke-width="3.9" fill="none"/><rect x="718.14" y="845.65" width="34.13" height="16.05" rx="1.1" fill="#c088b4" stroke="#63165a" stroke-width="3.95"/><path d="M737.55 845.65V861.7" stroke="#63165a" stroke-width="3.9" fill="none"/><circle cx="654.76" cy="856.43" r="3.1" fill="#63165a"/><circle cx="659.54" cy="850.18" r="3.1" fill="#63165a"/><circle cx="665.06" cy="853.67" r="3.1" fill="#63165a"/>
<path d="M673.71 876.1H713.17M740.68 876.1H779.87" stroke="#63165a" stroke-width="3.7" fill="none"/><path d="M673.71 872.2V880M779.87 872.2V880" stroke="#63165a" stroke-width="3.9" fill="none"/><rect x="713.17" y="868.07" width="27.51" height="16.05" rx="1.1" fill="#c088b4" stroke="#63165a" stroke-width="3.95"/><path d="M728.91 868.07V884.12" stroke="#63165a" stroke-width="3.9" fill="none"/><circle cx="664.51" cy="876.1" r="3.1" fill="#63165a"/><circle cx="783.18" cy="876.1" r="3.1" fill="#63165a"/>
<path d="M667.08 898.53H713.54M757.61 898.53H784.1" stroke="#63165a" stroke-width="3.7" fill="none"/><path d="M667.08 894.63V902.43M784.1 894.63V902.43" stroke="#63165a" stroke-width="3.9" fill="none"/><rect x="713.54" y="890.5" width="44.07" height="16.05" rx="1.1" fill="#c088b4" stroke="#63165a" stroke-width="3.95"/><path d="M744.91 890.5V906.55" stroke="#63165a" stroke-width="3.9" fill="none"/>
<path d="M663.04 920.95H726.97M769.75 920.95H817.96" stroke="#63165a" stroke-width="3.7" fill="none"/><path d="M663.04 917.05V924.85M817.96 917.05V924.85" stroke="#63165a" stroke-width="3.9" fill="none"/><rect x="726.97" y="912.93" width="42.78" height="16.05" rx="1.1" fill="#c088b4" stroke="#63165a" stroke-width="3.95"/><path d="M749.51 912.93V928.98" stroke="#63165a" stroke-width="3.9" fill="none"/>
<path d="M649.79 943.38H698.08M731.11 943.38H767.36" stroke="#63165a" stroke-width="3.7" fill="none"/><path d="M649.79 939.48V947.28M767.36 939.48V947.28" stroke="#63165a" stroke-width="3.9" fill="none"/><rect x="698.08" y="935.35" width="33.03" height="16.05" rx="1.1" fill="#c088b4" stroke="#63165a" stroke-width="3.95"/><path d="M713.63 935.35V951.4" stroke="#63165a" stroke-width="3.9" fill="none"/>
<path d="M668.92 965.81H708.2M735.71 965.81H774.9" stroke="#63165a" stroke-width="3.7" fill="none"/><path d="M668.92 961.91V969.71M774.9 961.91V969.71" stroke="#63165a" stroke-width="3.9" fill="none"/><rect x="708.2" y="957.78" width="27.51" height="16.05" rx="1.1" fill="#c088b4" stroke="#63165a" stroke-width="3.95"/><path d="M723.2 957.78V973.83" stroke="#63165a" stroke-width="3.9" fill="none"/><circle cx="664.14" cy="965.81" r="3.1" fill="#63165a"/><circle cx="797.35" cy="965.81" r="3.1" fill="#63165a"/>
<path d="M660.83 988.23H697.53M723.57 988.23H760.92" stroke="#63165a" stroke-width="3.7" fill="none"/><path d="M660.83 984.33V992.13M760.92 984.33V992.13" stroke="#63165a" stroke-width="3.9" fill="none"/><rect x="697.53" y="980.21" width="26.04" height="16.05" rx="1.1" fill="#c088b4" stroke="#63165a" stroke-width="3.95"/><path d="M708.67 980.21V996.26" stroke="#63165a" stroke-width="3.9" fill="none"/><circle cx="768.83" cy="986.95" r="3.1" fill="#63165a"/><circle cx="769.75" cy="990.63" r="3.1" fill="#63165a"/><circle cx="774.9" cy="981.98" r="3.1" fill="#63165a"/><circle cx="776.19" cy="993.94" r="3.1" fill="#63165a"/>
<path d="M721.91 1010.66H758.25M783 1010.66H806" stroke="#63165a" stroke-width="3.7" fill="none"/><path d="M721.91 1006.76V1014.56M806 1006.76V1014.56" stroke="#63165a" stroke-width="3.9" fill="none"/><rect x="758.25" y="1002.64" width="24.75" height="16.05" rx="1.1" fill="#c088b4" stroke="#63165a" stroke-width="3.95"/><path d="M772.14 1002.64V1018.69" stroke="#63165a" stroke-width="3.9" fill="none"/><circle cx="670.58" cy="1013.24" r="3.1" fill="#63165a"/><circle cx="674.44" cy="1007.17" r="3.1" fill="#63165a"/><circle cx="688.24" cy="1007.17" r="3.1" fill="#63165a"/><circle cx="691" cy="1013.24" r="3.1" fill="#63165a"/><circle cx="696.15" cy="1016.73" r="3.1" fill="#63165a"/><circle cx="697.99" cy="1007.17" r="3.1" fill="#63165a"/><circle cx="706.27" cy="1015.44" r="3.1" fill="#63165a"/><circle cx="707.19" cy="1006.25" r="3.1" fill="#63165a"/><circle cx="707.19" cy="1010.84" r="3.1" fill="#63165a"/><circle cx="716.03" cy="1013.24" r="3.1" fill="#63165a"/><circle cx="718.23" cy="1007.17" r="3.1" fill="#63165a"/>
<path d="M668.56 1033.09H705.44M748.04 1033.09H794.04" stroke="#8e7d34" stroke-width="3.7" fill="none"/><path d="M668.56 1029.19V1036.99M794.04 1029.19V1036.99" stroke="#8e7d34" stroke-width="3.9" fill="none"/><rect x="705.44" y="1025.06" width="42.6" height="16.05" rx="1.1" fill="#ebe5c8" stroke="#8e7d34" stroke-width="3.95"/><path d="M731.11 1025.06V1041.11" stroke="#8e7d34" stroke-width="3.9" fill="none"/>
<path d="M653.47 1055.52H689.62M725.41 1055.52H777.11" stroke="#63165a" stroke-width="3.7" fill="none"/><path d="M653.47 1051.62V1059.42M777.11 1051.62V1059.42" stroke="#63165a" stroke-width="3.9" fill="none"/><rect x="689.62" y="1047.49" width="35.79" height="16.05" rx="1.1" fill="#c088b4" stroke="#63165a" stroke-width="3.95"/><path d="M705.91 1047.49V1063.54" stroke="#63165a" stroke-width="3.9" fill="none"/>
<path d="M652.55 1077.94H681.89M707.19 1077.94H743.07" stroke="#63165a" stroke-width="3.7" fill="none"/><path d="M652.55 1074.04V1081.84M743.07 1074.04V1081.84" stroke="#63165a" stroke-width="3.9" fill="none"/><rect x="681.89" y="1069.92" width="25.3" height="16.05" rx="1.1" fill="#c088b4" stroke="#63165a" stroke-width="3.95"/><path d="M693.95 1069.92V1085.97" stroke="#63165a" stroke-width="3.9" fill="none"/><circle cx="741.23" cy="1077.94" r="3.1" fill="#63165a"/><circle cx="746.75" cy="1077.94" r="3.1" fill="#63165a"/><circle cx="751.35" cy="1077.94" r="3.1" fill="#63165a"/><circle cx="752.82" cy="1082.54" r="3.1" fill="#63165a"/><circle cx="756.32" cy="1072.79" r="3.1" fill="#63165a"/><circle cx="758.71" cy="1078.49" r="3.1" fill="#63165a"/><circle cx="762.94" cy="1082.17" r="3.1" fill="#63165a"/><circle cx="764.23" cy="1073.34" r="3.1" fill="#63165a"/><circle cx="766.99" cy="1077.94" r="3.1" fill="#63165a"/><circle cx="773.98" cy="1072.79" r="3.1" fill="#63165a"/><circle cx="773.98" cy="1082.54" r="3.1" fill="#63165a"/><circle cx="792.38" cy="1077.94" r="3.1" fill="#63165a"/>
<path d="M657.88 1100.37H707.1M771.59 1100.37H839.3" stroke="#63165a" stroke-width="3.7" fill="none"/><path d="M657.88 1096.47V1104.27M839.3 1096.47V1104.27" stroke="#63165a" stroke-width="3.9" fill="none"/><rect x="707.1" y="1092.34" width="64.49" height="16.05" rx="1.1" fill="#c088b4" stroke="#63165a" stroke-width="3.95"/><path d="M745.46 1092.34V1108.39" stroke="#63165a" stroke-width="3.9" fill="none"/>
<path d="M659.36 1122.8H684.65M720.44 1122.8H773.43" stroke="#8e7d34" stroke-width="3.7" fill="none"/><path d="M659.36 1118.9V1126.7M773.43 1118.9V1126.7" stroke="#8e7d34" stroke-width="3.9" fill="none"/><rect x="684.65" y="1114.77" width="35.79" height="16.05" rx="1.1" fill="#ebe5c8" stroke="#8e7d34" stroke-width="3.95"/><path d="M703.88 1114.77V1130.82" stroke="#8e7d34" stroke-width="3.9" fill="none"/><circle cx="774.35" cy="1122.06" r="3.1" fill="#8e7d34"/><circle cx="778.95" cy="1117.83" r="3.1" fill="#8e7d34"/><circle cx="778.95" cy="1127.58" r="3.1" fill="#8e7d34"/><circle cx="784.1" cy="1119.67" r="3.1" fill="#8e7d34"/><circle cx="786.31" cy="1125.74" r="3.1" fill="#8e7d34"/><circle cx="793.3" cy="1120.77" r="3.1" fill="#8e7d34"/><circle cx="794.04" cy="1125.74" r="3.1" fill="#8e7d34"/><circle cx="799.19" cy="1119.3" r="3.1" fill="#8e7d34"/><circle cx="802.87" cy="1122.98" r="3.1" fill="#8e7d34"/><circle cx="806.55" cy="1119.3" r="3.1" fill="#8e7d34"/><circle cx="807.47" cy="1125.74" r="3.1" fill="#8e7d34"/><circle cx="812.07" cy="1125.74" r="3.1" fill="#8e7d34"/><circle cx="813.91" cy="1119.3" r="3.1" fill="#8e7d34"/><circle cx="821.27" cy="1119.67" r="3.1" fill="#8e7d34"/><circle cx="825.87" cy="1125.37" r="3.1" fill="#8e7d34"/>
<path d="M653.1 1145.22H689.8M738.47 1145.22H806.92" stroke="#8e7d34" stroke-width="3.7" fill="none"/><path d="M653.1 1141.32V1149.12M806.92 1141.32V1149.12" stroke="#8e7d34" stroke-width="3.9" fill="none"/><rect x="689.8" y="1137.2" width="48.67" height="16.05" rx="1.1" fill="#ebe5c8" stroke="#8e7d34" stroke-width="3.95"/><path d="M710.87 1137.2V1153.25" stroke="#8e7d34" stroke-width="3.9" fill="none"/>
<path d="M653.1 1167.65H679.13M702.96 1167.65H734.79" stroke="#63165a" stroke-width="3.7" fill="none"/><path d="M653.1 1163.75V1171.55M734.79 1163.75V1171.55" stroke="#63165a" stroke-width="3.9" fill="none"/><rect x="679.13" y="1159.62" width="23.83" height="16.05" rx="1.1" fill="#c088b4" stroke="#63165a" stroke-width="3.95"/><path d="M688.79 1159.62V1175.67" stroke="#63165a" stroke-width="3.9" fill="none"/><circle cx="747.3" cy="1170.04" r="3.1" fill="#63165a"/><circle cx="750.43" cy="1164.89" r="3.1" fill="#63165a"/><circle cx="753.19" cy="1167.65" r="3.1" fill="#63165a"/><circle cx="758.34" cy="1172.25" r="3.1" fill="#63165a"/><circle cx="760.55" cy="1162.31" r="3.1" fill="#63165a"/><circle cx="766.99" cy="1166.36" r="3.1" fill="#63165a"/><circle cx="769.75" cy="1170.04" r="3.1" fill="#63165a"/><circle cx="771.59" cy="1165.44" r="3.1" fill="#63165a"/><circle cx="774.9" cy="1161.39" r="3.1" fill="#63165a"/><circle cx="777.11" cy="1170.59" r="3.1" fill="#63165a"/><circle cx="793.67" cy="1167.65" r="3.1" fill="#63165a"/>
<path d="M654.76 1190.08H689.62M720.44 1190.08H766.07" stroke="#8e7d34" stroke-width="3.7" fill="none"/><path d="M654.76 1186.18V1193.98M766.07 1186.18V1193.98" stroke="#8e7d34" stroke-width="3.9" fill="none"/><rect x="689.62" y="1182.05" width="30.82" height="16.05" rx="1.1" fill="#ebe5c8" stroke="#8e7d34" stroke-width="3.95"/><path d="M706.83 1182.05V1198.1" stroke="#8e7d34" stroke-width="3.9" fill="none"/>
<path d="M648.87 1212.5H688.7M724.12 1212.5H776.19" stroke="#63165a" stroke-width="3.7" fill="none"/><path d="M648.87 1208.6V1216.4M776.19 1208.6V1216.4" stroke="#63165a" stroke-width="3.9" fill="none"/><rect x="688.7" y="1204.48" width="35.42" height="16.05" rx="1.1" fill="#c088b4" stroke="#63165a" stroke-width="3.95"/><path d="M708.11 1204.48V1220.53" stroke="#63165a" stroke-width="3.9" fill="none"/><circle cx="790.91" cy="1212.5" r="3.1" fill="#63165a"/>
<path d="M654.76 1234.93H687.96M727.43 1234.93H774.9" stroke="#8e7d34" stroke-width="3.7" fill="none"/><path d="M654.76 1231.03V1238.83M774.9 1231.03V1238.83" stroke="#8e7d34" stroke-width="3.9" fill="none"/><rect x="687.96" y="1226.91" width="39.47" height="16.05" rx="1.1" fill="#ebe5c8" stroke="#8e7d34" stroke-width="3.95"/><path d="M705.91 1226.91V1242.96" stroke="#8e7d34" stroke-width="3.9" fill="none"/>
<path d="M655.68 1257.36H702.68M772.32 1257.36H851.63" stroke="#8e7d34" stroke-width="3.7" fill="none"/><path d="M655.68 1253.46V1261.26M851.63 1253.46V1261.26" stroke="#8e7d34" stroke-width="3.9" fill="none"/><rect x="702.68" y="1249.33" width="69.64" height="16.05" rx="1.1" fill="#ebe5c8" stroke="#8e7d34" stroke-width="3.95"/><path d="M731.11 1249.33V1265.38" stroke="#8e7d34" stroke-width="3.9" fill="none"/>
<path d="M648.87 1279.78H680.97M726.88 1279.78H791.83" stroke="#63165a" stroke-width="3.7" fill="none"/><path d="M648.87 1275.88V1283.68M791.83 1275.88V1283.68" stroke="#63165a" stroke-width="3.9" fill="none"/><rect x="680.97" y="1271.76" width="45.91" height="16.05" rx="1.1" fill="#c088b4" stroke="#63165a" stroke-width="3.95"/><path d="M699.83 1271.76V1287.81" stroke="#63165a" stroke-width="3.9" fill="none"/><circle cx="799.19" cy="1281.81" r="3.1" fill="#63165a"/><circle cx="802.5" cy="1277.58" r="3.1" fill="#63165a"/><circle cx="804.71" cy="1276.29" r="3.1" fill="#63165a"/><circle cx="802.87" cy="1283.1" r="3.1" fill="#63165a"/><circle cx="824.03" cy="1279.78" r="3.1" fill="#63165a"/><circle cx="830.84" cy="1276.66" r="3.1" fill="#63165a"/><circle cx="830.84" cy="1283.1" r="3.1" fill="#63165a"/><circle cx="845.74" cy="1279.78" r="3.1" fill="#63165a"/><circle cx="858.07" cy="1279.78" r="3.1" fill="#63165a"/>
<path d="M654.76 1302.21H675.08M701.12 1302.21H735.71" stroke="#63165a" stroke-width="3.7" fill="none"/><path d="M654.76 1298.31V1306.11M735.71 1298.31V1306.11" stroke="#63165a" stroke-width="3.9" fill="none"/><rect x="675.08" y="1294.19" width="26.04" height="16.05" rx="1.1" fill="#c088b4" stroke="#63165a" stroke-width="3.95"/><path d="M688.79 1294.19V1310.24" stroke="#63165a" stroke-width="3.9" fill="none"/>
<path d="M651.44 1324.64H688.7M746.2 1324.64H821.27" stroke="#63165a" stroke-width="3.7" fill="none"/><path d="M651.44 1320.74V1328.54M821.27 1320.74V1328.54" stroke="#63165a" stroke-width="3.9" fill="none"/><rect x="688.7" y="1316.61" width="57.5" height="16.05" rx="1.1" fill="#c088b4" stroke="#63165a" stroke-width="3.95"/><path d="M722.28 1316.61V1332.66" stroke="#63165a" stroke-width="3.9" fill="none"/>
<path d="M651.44 1347.07H684.1M715.84 1347.07H745.83" stroke="#63165a" stroke-width="3.7" fill="none"/><path d="M651.44 1343.17V1350.97M745.83 1343.17V1350.97" stroke="#63165a" stroke-width="3.9" fill="none"/><rect x="684.1" y="1339.04" width="31.74" height="16.05" rx="1.1" fill="#c088b4" stroke="#63165a" stroke-width="3.95"/><path d="M699.83 1339.04V1355.09" stroke="#63165a" stroke-width="3.9" fill="none"/>
<path d="M652.92 1369.49H673.98M698.36 1369.49H728.72" stroke="#8e7d34" stroke-width="3.7" fill="none"/><path d="M652.92 1365.59V1373.39M728.72 1365.59V1373.39" stroke="#8e7d34" stroke-width="3.9" fill="none"/><rect x="673.98" y="1361.47" width="24.38" height="16.05" rx="1.1" fill="#ebe5c8" stroke="#8e7d34" stroke-width="3.95"/><path d="M687.87 1361.47V1377.52" stroke="#8e7d34" stroke-width="3.9" fill="none"/><circle cx="766.99" cy="1372.07" r="3.1" fill="#8e7d34"/><circle cx="771.59" cy="1366.18" r="3.1" fill="#8e7d34"/>
<path d="M651.44 1391.92H679.13M720.07 1391.92H751.35" stroke="#8e7d34" stroke-width="3.7" fill="none"/><path d="M651.44 1388.02V1395.82M751.35 1388.02V1395.82" stroke="#8e7d34" stroke-width="3.9" fill="none"/><rect x="679.13" y="1383.89" width="40.94" height="16.05" rx="1.1" fill="#ebe5c8" stroke="#8e7d34" stroke-width="3.95"/><path d="M697.07 1383.89V1399.94" stroke="#8e7d34" stroke-width="3.9" fill="none"/>
<path d="M659.91 1414.35H681.52M704.8 1414.35H730.19" stroke="#63165a" stroke-width="3.7" fill="none"/><path d="M659.91 1410.45V1418.25M730.19 1410.45V1418.25" stroke="#63165a" stroke-width="3.9" fill="none"/><rect x="681.52" y="1406.32" width="23.28" height="16.05" rx="1.1" fill="#c088b4" stroke="#63165a" stroke-width="3.95"/><path d="M692.47 1406.32V1422.37" stroke="#63165a" stroke-width="3.9" fill="none"/><circle cx="741.23" cy="1414.35" r="3.1" fill="#63165a"/><circle cx="751.9" cy="1414.35" r="3.1" fill="#63165a"/>
<path d="M652.55 1436.77H682.81M734.79 1436.77H781.71" stroke="#63165a" stroke-width="3.7" fill="none"/><path d="M652.55 1432.87V1440.67M781.71 1432.87V1440.67" stroke="#63165a" stroke-width="3.9" fill="none"/><rect x="682.81" y="1428.75" width="51.98" height="16.05" rx="1.1" fill="#c088b4" stroke="#63165a" stroke-width="3.95"/><path d="M707.19 1428.75V1444.8" stroke="#63165a" stroke-width="3.9" fill="none"/>
<path d="M659.91 1459.2H680.05M720.44 1459.2H766.99" stroke="#8e7d34" stroke-width="3.7" fill="none"/><path d="M659.91 1455.3V1463.1M766.99 1455.3V1463.1" stroke="#8e7d34" stroke-width="3.9" fill="none"/><rect x="680.05" y="1451.18" width="40.39" height="16.05" rx="1.1" fill="#ebe5c8" stroke="#8e7d34" stroke-width="3.95"/><path d="M702.59 1451.18V1467.23" stroke="#8e7d34" stroke-width="3.9" fill="none"/>
<path d="M649.79 1481.63H672.32M693.76 1481.63H725.04" stroke="#63165a" stroke-width="3.7" fill="none"/><path d="M649.79 1477.73V1485.53M725.04 1477.73V1485.53" stroke="#63165a" stroke-width="3.9" fill="none"/><rect x="672.32" y="1473.6" width="21.44" height="16.05" rx="1.1" fill="#c088b4" stroke="#63165a" stroke-width="3.95"/><path d="M682.91 1473.6V1489.65" stroke="#63165a" stroke-width="3.9" fill="none"/><circle cx="735.71" cy="1481.63" r="3.1" fill="#63165a"/><circle cx="751.72" cy="1481.63" r="3.1" fill="#63165a"/>
<path d="M649.79 1504.05H676.37M711.24 1504.05H753.74" stroke="#63165a" stroke-width="3.7" fill="none"/><path d="M649.79 1500.15V1507.95M753.74 1500.15V1507.95" stroke="#63165a" stroke-width="3.9" fill="none"/><rect x="676.37" y="1496.03" width="34.87" height="16.05" rx="1.1" fill="#c088b4" stroke="#63165a" stroke-width="3.95"/><path d="M696.71 1496.03V1512.08" stroke="#63165a" stroke-width="3.9" fill="none"/>
<path d="M652.92 1526.48H670.85M687.87 1526.48H705.91" stroke="#63165a" stroke-width="3.7" fill="none"/><path d="M652.92 1522.58V1530.38M705.91 1522.58V1530.38" stroke="#63165a" stroke-width="3.9" fill="none"/><rect x="670.85" y="1518.46" width="17.02" height="16.05" rx="1.1" fill="#c088b4" stroke="#63165a" stroke-width="3.95"/><path d="M679.23 1518.46V1534.51" stroke="#63165a" stroke-width="3.9" fill="none"/>
<path d="M655.12 1548.91H680.97M756.87 1548.91H816.67" stroke="#63165a" stroke-width="3.7" fill="none"/><path d="M655.12 1545.01V1552.81M816.67 1545.01V1552.81" stroke="#63165a" stroke-width="3.9" fill="none"/><rect x="680.97" y="1540.88" width="75.9" height="16.05" rx="1.1" fill="#c088b4" stroke="#63165a" stroke-width="3.95"/><path d="M716.95 1540.88V1556.93" stroke="#63165a" stroke-width="3.9" fill="none"/>
<path d="M649.79 1571.34H668.46M687.87 1571.34H712.35" stroke="#63165a" stroke-width="3.7" fill="none"/><path d="M649.79 1567.44V1575.24M712.35 1567.44V1575.24" stroke="#63165a" stroke-width="3.9" fill="none"/><rect x="668.46" y="1563.31" width="19.41" height="16.05" rx="1.1" fill="#c088b4" stroke="#63165a" stroke-width="3.95"/><path d="M676.28 1563.31V1579.36" stroke="#63165a" stroke-width="3.9" fill="none"/><circle cx="719.71" cy="1571.34" r="3.1" fill="#63165a"/><circle cx="728.35" cy="1571.34" r="3.1" fill="#63165a"/><circle cx="731.48" cy="1568.58" r="3.1" fill="#63165a"/>
<path d="M649.79 1593.76H675.45M712.53 1593.76H740.86" stroke="#63165a" stroke-width="3.7" fill="none"/><path d="M649.79 1589.86V1597.66M740.86 1589.86V1597.66" stroke="#63165a" stroke-width="3.9" fill="none"/><rect x="675.45" y="1585.74" width="37.08" height="16.05" rx="1.1" fill="#c088b4" stroke="#63165a" stroke-width="3.95"/><path d="M690.08 1585.74V1601.79" stroke="#63165a" stroke-width="3.9" fill="none"/><circle cx="785.94" cy="1593.76" r="3.1" fill="#63165a"/><circle cx="793.67" cy="1593.76" r="3.1" fill="#63165a"/>
<path d="M651.44 1616.19H668.64M688.61 1616.19H714.55" stroke="#8e7d34" stroke-width="3.7" fill="none"/><path d="M651.44 1612.29V1620.09M714.55 1612.29V1620.09" stroke="#8e7d34" stroke-width="3.9" fill="none"/><rect x="668.64" y="1608.16" width="19.97" height="16.05" rx="1.1" fill="#ebe5c8" stroke="#8e7d34" stroke-width="3.95"/><path d="M680.15 1608.16V1624.21" stroke="#8e7d34" stroke-width="3.9" fill="none"/><circle cx="755.03" cy="1619.13" r="3.1" fill="#8e7d34"/><circle cx="757.42" cy="1613.06" r="3.1" fill="#8e7d34"/>
<path d="M648.87 1638.62H673.24M704.8 1638.62H744.54" stroke="#63165a" stroke-width="3.7" fill="none"/><path d="M648.87 1634.72V1642.52M744.54 1634.72V1642.52" stroke="#63165a" stroke-width="3.9" fill="none"/><rect x="673.24" y="1630.59" width="31.56" height="16.05" rx="1.1" fill="#c088b4" stroke="#63165a" stroke-width="3.95"/><path d="M688.79 1630.59V1646.64" stroke="#63165a" stroke-width="3.9" fill="none"/><circle cx="751.9" cy="1638.62" r="3.1" fill="#63165a"/><circle cx="762.76" cy="1638.62" r="3.1" fill="#63165a"/><circle cx="776.19" cy="1638.62" r="3.1" fill="#63165a"/><circle cx="789.07" cy="1638.62" r="3.1" fill="#63165a"/>
<path d="M652.92 1661.04H677.84M711.24 1661.04H760.92" stroke="#63165a" stroke-width="3.7" fill="none"/><path d="M652.92 1657.14V1664.94M760.92 1657.14V1664.94" stroke="#63165a" stroke-width="3.9" fill="none"/><rect x="677.84" y="1653.02" width="33.4" height="16.05" rx="1.1" fill="#c088b4" stroke="#63165a" stroke-width="3.95"/><path d="M690.63 1653.02V1669.07" stroke="#63165a" stroke-width="3.9" fill="none"/>
<path d="M659.91 1683.47H670.85M682.17 1683.47H691" stroke="#63165a" stroke-width="3.7" fill="none"/><path d="M659.91 1679.57V1687.37M691 1679.57V1687.37" stroke="#63165a" stroke-width="3.9" fill="none"/><rect x="670.85" y="1675.45" width="11.32" height="16.05" rx="1.1" fill="#c088b4" stroke="#63165a" stroke-width="3.95"/><path d="M675.92 1675.45V1691.5" stroke="#63165a" stroke-width="3.9" fill="none"/><circle cx="653.47" cy="1686.23" r="3.1" fill="#63165a"/><circle cx="655.12" cy="1680.16" r="3.1" fill="#63165a"/><circle cx="699.83" cy="1680.16" r="3.1" fill="#63165a"/><circle cx="705.35" cy="1686.6" r="3.1" fill="#63165a"/><circle cx="707.75" cy="1683.47" r="3.1" fill="#63165a"/><circle cx="719.15" cy="1680.16" r="3.1" fill="#63165a"/><circle cx="719.15" cy="1686.23" r="3.1" fill="#63165a"/>
<path d="M769.2 1705.9H809.4M840.95 1705.9H855.86" stroke="#8e7d34" stroke-width="3.7" fill="none"/><path d="M769.2 1702V1709.8M855.86 1702V1709.8" stroke="#8e7d34" stroke-width="3.9" fill="none"/><rect x="809.4" y="1697.87" width="31.56" height="16.05" rx="1.1" fill="#ebe5c8" stroke="#8e7d34" stroke-width="3.95"/><path d="M820.35 1697.87V1713.92" stroke="#8e7d34" stroke-width="3.9" fill="none"/>
<path d="M674.08 1728.32H701.58M771.04 1728.32H817.59" stroke="#63165a" stroke-width="3.7" fill="none"/><path d="M674.08 1724.42V1732.22M817.59 1724.42V1732.22" stroke="#63165a" stroke-width="3.9" fill="none"/><rect x="701.58" y="1720.3" width="69.46" height="16.05" rx="1.1" fill="#c088b4" stroke="#63165a" stroke-width="3.95"/><path d="M734.43 1720.3V1736.35" stroke="#63165a" stroke-width="3.9" fill="none"/>
<path d="M711.24 1750.75H738.56M768.28 1750.75H780.79" stroke="#8e7d34" stroke-width="3.7" fill="none"/><path d="M711.24 1746.85V1754.65M780.79 1746.85V1754.65" stroke="#8e7d34" stroke-width="3.9" fill="none"/><rect x="738.56" y="1742.73" width="29.72" height="16.05" rx="1.1" fill="#ebe5c8" stroke="#8e7d34" stroke-width="3.95"/><path d="M750.98 1742.73V1758.78" stroke="#8e7d34" stroke-width="3.9" fill="none"/><circle cx="672.6" cy="1750.75" r="3.1" fill="#8e7d34"/>
<path d="M668.56 1773.18H673.98M735.16 1773.18H815.38" stroke="#63165a" stroke-width="3.7" fill="none"/><path d="M668.56 1769.28V1777.08M815.38 1769.28V1777.08" stroke="#63165a" stroke-width="3.9" fill="none"/><rect x="673.98" y="1765.15" width="61.18" height="16.05" rx="1.1" fill="#c088b4" stroke="#63165a" stroke-width="3.95"/><path d="M702.23 1765.15V1781.2" stroke="#63165a" stroke-width="3.9" fill="none"/>
<path d="M654.76 1795.61H664.41M682.17 1795.61H700.39" stroke="#8e7d34" stroke-width="3.7" fill="none"/><path d="M654.76 1791.71V1799.51M700.39 1791.71V1799.51" stroke="#8e7d34" stroke-width="3.9" fill="none"/><rect x="664.41" y="1787.58" width="17.76" height="16.05" rx="1.1" fill="#ebe5c8" stroke="#8e7d34" stroke-width="3.95"/><path d="M671.68 1787.58V1803.63" stroke="#8e7d34" stroke-width="3.9" fill="none"/><circle cx="716.95" cy="1798.37" r="3.1" fill="#8e7d34"/><circle cx="723.2" cy="1791.93" r="3.1" fill="#8e7d34"/>
<path d="M663.04 1818.03H678.21M697.07 1818.03H720.07" stroke="#8e7d34" stroke-width="3.7" fill="none"/><path d="M663.04 1814.13V1821.93M720.07 1814.13V1821.93" stroke="#8e7d34" stroke-width="3.9" fill="none"/><rect x="678.21" y="1810.01" width="18.86" height="16.05" rx="1.1" fill="#ebe5c8" stroke="#8e7d34" stroke-width="3.95"/><path d="M686.03 1810.01V1826.06" stroke="#8e7d34" stroke-width="3.9" fill="none"/>
<path d="M663.59 1840.46H671.4M693.76 1840.46H721.91" stroke="#63165a" stroke-width="3.7" fill="none"/><path d="M663.59 1836.56V1844.36M721.91 1836.56V1844.36" stroke="#63165a" stroke-width="3.9" fill="none"/><rect x="671.4" y="1832.43" width="22.36" height="16.05" rx="1.1" fill="#c088b4" stroke="#63165a" stroke-width="3.95"/><path d="M681.44 1832.43V1848.48" stroke="#63165a" stroke-width="3.9" fill="none"/><circle cx="762.76" cy="1840.46" r="3.1" fill="#63165a"/>
<path d="M655.68 1862.89H670.85M716.21 1862.89H777.66" stroke="#63165a" stroke-width="3.7" fill="none"/><path d="M655.68 1858.99V1866.79M777.66 1858.99V1866.79" stroke="#63165a" stroke-width="3.9" fill="none"/><rect x="670.85" y="1854.86" width="45.36" height="16.05" rx="1.1" fill="#c088b4" stroke="#63165a" stroke-width="3.95"/><path d="M694.31 1854.86V1870.91" stroke="#63165a" stroke-width="3.9" fill="none"/>
<path d="M660.28 1885.31H669.93M684.01 1885.31H694.87" stroke="#63165a" stroke-width="3.7" fill="none"/><path d="M660.28 1881.41V1889.21M694.87 1881.41V1889.21" stroke="#63165a" stroke-width="3.9" fill="none"/><rect x="669.93" y="1877.29" width="14.08" height="16.05" rx="1.1" fill="#c088b4" stroke="#63165a" stroke-width="3.95"/><path d="M676.84 1877.29V1893.34" stroke="#63165a" stroke-width="3.9" fill="none"/>
<path d="M664.32 1907.74H671.77M727.8 1907.74H808.39" stroke="#63165a" stroke-width="3.7" fill="none"/><path d="M664.32 1903.84V1911.64M808.39 1903.84V1911.64" stroke="#63165a" stroke-width="3.9" fill="none"/><rect x="671.77" y="1899.72" width="56.03" height="16.05" rx="1.1" fill="#c088b4" stroke="#63165a" stroke-width="3.95"/><path d="M676.28 1899.72V1915.77" stroke="#63165a" stroke-width="3.9" fill="none"/><circle cx="839.12" cy="1904.06" r="3.1" fill="#63165a"/><circle cx="838.2" cy="1910.5" r="3.1" fill="#63165a"/>
<path d="M649.79 1930.17H672.69M695.6 1930.17H713.63" stroke="#8e7d34" stroke-width="3.7" fill="none"/><path d="M649.79 1926.27V1934.07M713.63 1926.27V1934.07" stroke="#8e7d34" stroke-width="3.9" fill="none"/><rect x="672.69" y="1922.14" width="22.91" height="16.05" rx="1.1" fill="#ebe5c8" stroke="#8e7d34" stroke-width="3.95"/><path d="M688.24 1922.14V1938.19" stroke="#8e7d34" stroke-width="3.9" fill="none"/><circle cx="733.87" cy="1930.17" r="3.1" fill="#8e7d34"/><circle cx="747.67" cy="1930.17" r="3.1" fill="#8e7d34"/>
<path d="M668.56 1952.6H687.41M749.33 1952.6H788.15" stroke="#63165a" stroke-width="3.7" fill="none"/><path d="M668.56 1948.69V1956.5M788.15 1948.69V1956.5" stroke="#63165a" stroke-width="3.9" fill="none"/><rect x="687.41" y="1944.57" width="61.92" height="16.05" rx="1.1" fill="#c088b4" stroke="#63165a" stroke-width="3.95"/><path d="M708.11 1944.57V1960.62" stroke="#63165a" stroke-width="3.9" fill="none"/>
<path d="M668.56 1975.02H673.24M696.15 1975.02H720.63" stroke="#8e7d34" stroke-width="3.7" fill="none"/><path d="M668.56 1971.12V1978.92M720.63 1971.12V1978.92" stroke="#8e7d34" stroke-width="3.9" fill="none"/><rect x="673.24" y="1967" width="22.91" height="16.05" rx="1.1" fill="#ebe5c8" stroke="#8e7d34" stroke-width="3.95"/><path d="M677.76 1967V1983.05" stroke="#8e7d34" stroke-width="3.9" fill="none"/>
<path d="M670.95 1997.45H674.9M743.99 1997.45H790.91" stroke="#63165a" stroke-width="3.7" fill="none"/><path d="M670.95 1993.55V2001.35M790.91 1993.55V2001.35" stroke="#63165a" stroke-width="3.9" fill="none"/><rect x="674.9" y="1989.42" width="69.09" height="16.05" rx="1.1" fill="#c088b4" stroke="#63165a" stroke-width="3.95"/><path d="M689.35 1989.42V2005.47" stroke="#63165a" stroke-width="3.9" fill="none"/>
<path d="M673.16 2019.88H677.29M754.11 2019.88H819.43" stroke="#8e7d34" stroke-width="3.7" fill="none"/><path d="M673.16 2015.98V2023.78M819.43 2015.98V2023.78" stroke="#8e7d34" stroke-width="3.9" fill="none"/><rect x="677.29" y="2011.85" width="76.82" height="16.05" rx="1.1" fill="#ebe5c8" stroke="#8e7d34" stroke-width="3.95"/><path d="M720.99 2011.85V2027.9" stroke="#8e7d34" stroke-width="3.9" fill="none"/>
<path d="M655.68 2042.3H669.01M693.76 2042.3H699.28" stroke="#63165a" stroke-width="3.7" fill="none"/><path d="M655.68 2038.4V2046.2M699.28 2038.4V2046.2" stroke="#63165a" stroke-width="3.9" fill="none"/><rect x="669.01" y="2034.28" width="24.75" height="16.05" rx="1.1" fill="#c088b4" stroke="#63165a" stroke-width="3.95"/><path d="M673.71 2034.28V2050.33" stroke="#63165a" stroke-width="3.9" fill="none"/><circle cx="737" cy="2042.3" r="3.1" fill="#63165a"/>
<path d="M731.2 10V2049" clip-path="url(#cl-ra)" stroke="#63165a" stroke-width="4.6" stroke-linecap="round" stroke-dasharray="7.6 12.505 0.01 12.505" stroke-dashoffset="27.725" fill="none"/>
<path d="M643.8 2053.1H888.6" stroke="#3a0d25" stroke-width="3.6" fill="none"/>
<path d="M686.1 2053V2064.6M736.1 2053V2064.6M786.4 2053V2064.6M836.5 2053V2064.6M886.9 2053V2064.6" stroke="#3a0d25" stroke-width="3.2" fill="none"/>
<text class="ta" transform="translate(699.5 2085.1) rotate(-45)"><tspan dy="1.6" letter-spacing="-1">−</tspan><tspan dy="-1.6">4</tspan></text>
<text class="ta" transform="translate(749.5 2085.1) rotate(-45)"><tspan dy="1.6" letter-spacing="0.4">−</tspan><tspan dy="-1.6">3</tspan></text>
<text class="ta" transform="translate(799.8 2085.1) rotate(-45)"><tspan dy="1.6" letter-spacing="0.4">−</tspan><tspan dy="-1.6">2</tspan></text>
<text class="ta" transform="translate(849.9 2085.1) rotate(-45)"><tspan dy="1.6" letter-spacing="-1">−</tspan><tspan dy="-1.6">1</tspan></text>
<text class="ta" transform="translate(898.7 2085.1) rotate(-45)">0</text>
<text x="766.4" y="2147.3" style="font-size:21.3px;fill:#5f1858;text-anchor:middle;stroke:#5f1858;stroke-width:.3px">RA (log<tspan dy="5.6" style="font-size:14.8px">10</tspan><tspan dy="-5.6">)</tspan></text>
</g>
<text class="pl" x="-2" y="30.6">a</text>
</g>
<g id="panel-b">
<g id="b-highlight" fill="#eee3f1">
<rect x="970.3" y="59.3" width="495" height="29.8"/>
<rect x="970.3" y="113.1" width="495" height="244.5"/>
<rect x="970.3" y="434.1" width="495" height="28.9"/>
<rect x="970.3" y="490.6" width="495" height="52.5"/>
<rect x="970.3" y="568.5" width="495" height="83.1"/>
<rect x="970.3" y="729.4" width="495" height="53.2"/>
</g>
<path d="M1742.2 21.3V2066" stroke="#074e65" stroke-width="3.7" fill="none"/>
<g id="b-bars">
<path d="M1462.5 57.1H1739.8L1742.2 59.5V86.6L1739.8 89H1462.5Z" fill="#8ba9d3"/>
<path d="M1462.5 83.87H1739.8L1742.2 86.27V113.37L1739.8 115.77H1462.5Z" fill="#8ba9d3"/>
<path d="M1462.5 110.64H1739.8L1742.2 113.04V140.14L1739.8 142.54H1462.5Z" fill="#8ba9d3"/>
<path d="M1462.5 137.41H1739.8L1742.2 139.81V166.91L1739.8 169.31H1462.5Z" fill="#8ba9d3"/>
<path d="M1462.5 164.18H1739.8L1742.2 166.58V193.68L1739.8 196.08H1462.5Z" fill="#8ba9d3"/>
<path d="M1462.5 190.95H1739.8L1742.2 193.35V220.45L1739.8 222.85H1462.5Z" fill="#8ba9d3"/>
<path d="M1462.5 217.72H1739.8L1742.2 220.12V247.22L1739.8 249.62H1462.5Z" fill="#8ba9d3"/>
<path d="M1462.5 244.49H1739.8L1742.2 246.89V273.99L1739.8 276.39H1462.5Z" fill="#8ba9d3"/>
<path d="M1462.5 271.26H1739.8L1742.2 273.66V300.76L1739.8 303.16H1462.5Z" fill="#8ba9d3"/>
<path d="M1462.5 298.03H1739.8L1742.2 300.43V327.53L1739.8 329.93H1462.5Z" fill="#8ba9d3"/>
<path d="M1462.5 324.8H1739.8L1742.2 327.2V354.3L1739.8 356.7H1462.5Z" fill="#8ba9d3"/>
<path d="M1462.5 351.57H1739.8L1742.2 353.97V381.07L1739.8 383.47H1462.5Z" fill="#8ba9d3"/>
<path d="M1462.5 378.34H1735.8L1738.2 380.74V407.84L1735.8 410.24H1462.5Z" fill="#8ba9d3"/>
<path d="M1462.5 405.11H1732.8L1735.2 407.51V434.61L1732.8 437.01H1462.5Z" fill="#8ba9d3"/>
<path d="M1462.5 431.88H1732.8L1735.2 434.28V461.38L1732.8 463.78H1462.5Z" fill="#8ba9d3"/>
<path d="M1462.5 458.65H1730.2L1732.6 461.05V488.15L1730.2 490.55H1462.5Z" fill="#8ba9d3"/>
<path d="M1462.5 485.42H1730.2L1732.6 487.82V514.92L1730.2 517.32H1462.5Z" fill="#8ba9d3"/>
<path d="M1462.5 512.19H1719.3L1721.7 514.59V541.69L1719.3 544.09H1462.5Z" fill="#8ba9d3"/>
<path d="M1462.5 538.96H1716.4L1718.8 541.36V568.46L1716.4 570.86H1462.5Z" fill="#ebe5c8"/>
<path d="M1462.5 565.73H1716.4L1718.8 568.13V595.23L1716.4 597.63H1462.5Z" fill="#8ba9d3"/>
<path d="M1462.5 592.5H1716.4L1718.8 594.9V622L1716.4 624.4H1462.5Z" fill="#8ba9d3"/>
<path d="M1462.5 619.27H1713.4L1715.8 621.67V648.77L1713.4 651.17H1462.5Z" fill="#8ba9d3"/>
<path d="M1462.5 646.04H1708.1L1710.5 648.44V675.54L1708.1 677.94H1462.5Z" fill="#8ba9d3"/>
<path d="M1462.5 672.81H1705.1L1707.5 675.21V702.31L1705.1 704.71H1462.5Z" fill="#8ba9d3"/>
<path d="M1462.5 699.58H1702.2L1704.6 701.98V729.08L1702.2 731.48H1462.5Z" fill="#ebe5c8"/>
<path d="M1462.5 726.35H1702.2L1704.6 728.75V755.85L1702.2 758.25H1462.5Z" fill="#8ba9d3"/>
<path d="M1462.5 753.12H1699.4L1701.8 755.52V782.62L1699.4 785.02H1462.5Z" fill="#8ba9d3"/>
<path d="M1462.5 779.89H1691.3L1693.7 782.29V809.39L1691.3 811.79H1462.5Z" fill="#8ba9d3"/>
<path d="M1462.5 806.66H1732.8L1735.2 809.06V836.16L1732.8 838.56H1462.5Z" fill="#8ba9d3"/>
<path d="M1462.5 833.43H1732.8L1735.2 835.83V862.93L1732.8 865.33H1462.5Z" fill="#8ba9d3"/>
<path d="M1462.5 860.2H1716.4L1718.8 862.6V889.7L1716.4 892.1H1462.5Z" fill="#8ba9d3"/>
<path d="M1462.5 886.97H1702.2L1704.6 889.37V916.47L1702.2 918.87H1462.5Z" fill="#ebe5c8"/>
<path d="M1462.5 913.74H1691.3L1693.7 916.14V943.24L1691.3 945.64H1462.5Z" fill="#8ba9d3"/>
<path d="M1462.5 940.51H1685.6L1688 942.91V970.01L1685.6 972.41H1462.5Z" fill="#8ba9d3"/>
<path d="M1462.5 967.28H1671.7L1674.1 969.68V996.78L1671.7 999.18H1462.5Z" fill="#8ba9d3"/>
<path d="M1462.5 994.05H1666.2L1668.6 996.45V1023.55L1666.2 1025.95H1462.5Z" fill="#8ba9d3"/>
<path d="M1462.5 1020.82H1663.6L1666 1023.22V1050.32L1663.6 1052.72H1462.5Z" fill="#8ba9d3"/>
<path d="M1462.5 1047.59H1660.6L1663 1049.99V1077.09L1660.6 1079.49H1462.5Z" fill="#8ba9d3"/>
<path d="M1462.5 1074.36H1655.3L1657.7 1076.76V1103.86L1655.3 1106.26H1462.5Z" fill="#ebe5c8"/>
<path d="M1462.5 1101.13H1652.3L1654.7 1103.53V1130.63L1652.3 1133.03H1462.5Z" fill="#8ba9d3"/>
<path d="M1462.5 1127.9H1649.2L1651.6 1130.3V1157.4L1649.2 1159.8H1462.5Z" fill="#8ba9d3"/>
<path d="M1462.5 1154.67H1646.6L1649 1157.07V1184.17L1646.6 1186.57H1462.5Z" fill="#ebe5c8"/>
<path d="M1462.5 1181.44H1644L1646.4 1183.84V1210.94L1644 1213.34H1462.5Z" fill="#8ba9d3"/>
<path d="M1462.5 1208.21H1644L1646.4 1210.61V1237.71L1644 1240.11H1462.5Z" fill="#8ba9d3"/>
<path d="M1462.5 1234.98H1638.5L1640.9 1237.38V1264.48L1638.5 1266.88H1462.5Z" fill="#8ba9d3"/>
<path d="M1462.5 1261.75H1635.5L1637.9 1264.15V1291.25L1635.5 1293.65H1462.5Z" fill="#8ba9d3"/>
<path d="M1462.5 1288.52H1624.3L1626.7 1290.92V1318.02L1624.3 1320.42H1462.5Z" fill="#8ba9d3"/>
<path d="M1462.5 1315.29H1616L1618.4 1317.69V1344.79L1616 1347.19H1462.5Z" fill="#8ba9d3"/>
<path d="M1462.5 1342.06H1607.8L1610.2 1344.46V1371.56L1607.8 1373.96H1462.5Z" fill="#ebe5c8"/>
<path d="M1462.5 1368.83H1607.8L1610.2 1371.23V1398.33L1607.8 1400.73H1462.5Z" fill="#8ba9d3"/>
<path d="M1462.5 1395.6H1599.5L1601.9 1398V1425.1L1599.5 1427.5H1462.5Z" fill="#ebe5c8"/>
<path d="M1462.5 1422.37H1594L1596.4 1424.77V1451.87L1594 1454.27H1462.5Z" fill="#ebe5c8"/>
<path d="M1462.5 1449.14H1591.2L1593.6 1451.54V1478.64L1591.2 1481.04H1462.5Z" fill="#8ba9d3"/>
<path d="M1462.5 1475.91H1582.5L1584.9 1478.31V1505.41L1582.5 1507.81H1462.5Z" fill="#8ba9d3"/>
<path d="M1462.5 1502.68H1582.5L1584.9 1505.08V1532.18L1582.5 1534.58H1462.5Z" fill="#8ba9d3"/>
<path d="M1462.5 1529.45H1582.5L1584.9 1531.85V1558.95L1582.5 1561.35H1462.5Z" fill="#8ba9d3"/>
<path d="M1462.5 1556.22H1579.9L1582.3 1558.62V1585.72L1579.9 1588.12H1462.5Z" fill="#8ba9d3"/>
<path d="M1462.5 1582.99H1568.9L1571.3 1585.39V1612.49L1568.9 1614.89H1462.5Z" fill="#ebe5c8"/>
<path d="M1462.5 1609.76H1566.1L1568.5 1612.16V1639.26L1566.1 1641.66H1462.5Z" fill="#ebe5c8"/>
<path d="M1462.5 1636.53H1549.3L1551.7 1638.93V1666.03L1549.3 1668.43H1462.5Z" fill="#ebe5c8"/>
<path d="M1462.5 1663.3H1549.3L1551.7 1665.7V1692.8L1549.3 1695.2H1462.5Z" fill="#8ba9d3"/>
<path d="M1462.5 1690.07H1546.7L1549.1 1692.47V1719.57L1546.7 1721.97H1462.5Z" fill="#8ba9d3"/>
<path d="M1462.5 1716.84H1538.4L1540.8 1719.24V1746.34L1538.4 1748.74H1462.5Z" fill="#8ba9d3"/>
<path d="M1462.5 1743.61H1535.4L1537.8 1746.01V1773.11L1535.4 1775.51H1462.5Z" fill="#8ba9d3"/>
<path d="M1462.5 1770.38H1532.5L1534.9 1772.78V1799.88L1532.5 1802.28H1462.5Z" fill="#ebe5c8"/>
<path d="M1462.5 1797.15H1532.5L1534.9 1799.55V1826.65L1532.5 1829.05H1462.5Z" fill="#ebe5c8"/>
<path d="M1462.5 1823.92H1519L1521.4 1826.32V1853.42L1519 1855.82H1462.5Z" fill="#8ba9d3"/>
<path d="M1462.5 1850.69H1510.3L1512.7 1853.09V1880.19L1510.3 1882.59H1462.5Z" fill="#ebe5c8"/>
<path d="M1462.5 1877.46H1507.4L1509.8 1879.86V1906.96L1507.4 1909.36H1462.5Z" fill="#ebe5c8"/>
<path d="M1462.5 1904.23H1507.4L1509.8 1906.63V1933.73L1507.4 1936.13H1462.5Z" fill="#8ba9d3"/>
<path d="M1462.5 1931H1504.8L1507.2 1933.4V1960.5L1504.8 1962.9H1462.5Z" fill="#8ba9d3"/>
<path d="M1462.5 1957.77H1492.1L1494.5 1960.17V1987.27L1492.1 1989.67H1462.5Z" fill="#ebe5c8"/>
<path d="M1462.5 1984.54H1489.2L1491.6 1986.94V2014.04L1489.2 2016.44H1462.5Z" fill="#ebe5c8"/>
<path d="M1462.5 2011.31H1485.9L1488.3 2013.71V2040.81L1485.9 2043.21H1462.5Z" fill="#ebe5c8"/>
</g>
<g id="b-labels">
<text class="lb hl" x="1440.3" y="81.8">Lactobacillus</text>
<text class="lb" x="1440.3" y="108.58">Musculibacterium gen. nov.</text>
<text class="lb hl" x="1440.3" y="135.36">Faecimonas gen. nov.</text>
<text class="lb hl" x="1440.3" y="162.13">Muribacterium gen. nov.</text>
<text class="lb hl" x="1440.3" y="188.91">Vitreibacter gen. nov.</text>
<text class="lb hl" x="1440.3" y="215.69">Caeciabundans gen. nov.</text>
<text class="lb hl" x="1440.3" y="242.47">Clostridium</text>
<text class="lb hl" x="1440.3" y="269.25">Caecifactor gen. nov.</text>
<text class="lb hl" x="1440.3" y="296.02">Obsemuribacterium gen. nov.</text>
<text class="lb hl" x="1440.3" y="322.8">Cognaticlostridium gen. nov.</text>
<text class="lb hl" x="1440.3" y="349.58">Intestinifractor gen. nov.</text>
<text class="lb" x="1440.3" y="376.36">Acutalibacter</text>
<text class="lb" x="1440.3" y="403.14">Musculibacter gen. nov.</text>
<text class="lb" x="1440.3" y="429.91">Paramurimonas gen. nov.</text>
<text class="lb hl" x="1440.3" y="456.69">Anaerotruncus</text>
<text class="lb" x="1440.3" y="483.47">Ihubacter</text>
<text class="lb hl" x="1440.3" y="510.25">Muspiracella</text>
<text class="lb hl" x="1440.3" y="537.03">Lacticimuribacterium gen. nov.</text>
<text class="lb" x="1440.3" y="563.8">Lactococcus</text>
<text class="lb hl" x="1440.3" y="590.58">Faeciroseburia gen. nov.</text>
<text class="lb hl" x="1440.3" y="617.36">Eubacterium</text>
<text class="lb hl" x="1440.3" y="644.14">Propinquiclostridium gen. nov.</text>
<text class="lb" x="1440.3" y="670.92">Parablautia gen. nov.</text>
<text class="lb" x="1440.3" y="697.69">Murispira gen. nov.</text>
<text class="lb" x="1440.3" y="724.47">Columultus</text>
<text class="lb hl" x="1440.3" y="751.25">Musculimicrobium gen. nov.</text>
<text class="lb hl" x="1440.3" y="778.03">Alistipes</text>
<text class="lb" x="1440.3" y="804.81">Staphylococcus</text>
<text class="lb" x="1440.3" y="831.58">Ruminococcus</text>
<text class="lb" x="1440.3" y="858.36">Oscillibacter</text>
<text class="lb" x="1440.3" y="885.14">Muribacillus gen. nov.</text>
<text class="lb" x="1440.3" y="911.92">Acetatifactor</text>
<text class="lb" x="1440.3" y="938.7">Lipomuribacter gen. nov.</text>
<text class="lb" x="1440.3" y="965.47">Adlercreutzia</text>
<text class="lb" x="1440.3" y="992.25">Murirhabdus gen. nov.</text>
<text class="lb" x="1440.3" y="1019.03">Romboutsia</text>
<text class="lb" x="1440.3" y="1045.81">Antifaeciroseburia gen. nov.</text>
<text class="lb" x="1440.3" y="1072.59">Turicibacter</text>
<text class="lb" x="1440.3" y="1099.36">Anaeroplasma</text>
<text class="lb" x="1440.3" y="1126.14">Obesitatibacterium gen. nov.</text>
<text class="lb" x="1440.3" y="1152.92">Akkermansia</text>
<text class="lb" x="1440.3" y="1179.7">Desulfovibrio</text>
<text class="lb" x="1440.3" y="1206.48">Bacteroides</text>
<text class="lb" x="1440.3" y="1233.25">Mucibacterium gen. nov.</text>
<text class="lb" x="1440.3" y="1260.03">Caecibacillus gen. nov.</text>
<text class="lb" x="1440.3" y="1286.81">Bifidobacterium</text>
<text class="lb" x="1440.3" y="1313.59">Parvibacter</text>
<text class="lb" x="1440.3" y="1340.37">Culturomica</text>
<text class="lb" x="1440.3" y="1367.14">Mucispirillum</text>
<text class="lb" x="1440.3" y="1393.92">Duncaniella</text>
<text class="lb" x="1440.3" y="1420.7">Muribaculum</text>
<text class="lb" x="1440.3" y="1447.48">Bilophila</text>
<text class="lb" x="1440.3" y="1474.26">Murilachnobacterium gen. nov.</text>
<text class="lb" x="1440.3" y="1501.03">Dubosiella</text>
<text class="lb" x="1440.3" y="1527.81">Parabacteroides</text>
<text class="lb" x="1440.3" y="1554.59">Odoribacter</text>
<text class="lb" x="1440.3" y="1581.37">Faecibacter gen. nov.</text>
<text class="lb" x="1440.3" y="1608.15">Faecalibaculum</text>
<text class="lb" x="1440.3" y="1634.92">Weissella</text>
<text class="lb" x="1440.3" y="1661.7">Turicimonas</text>
<text class="lb" x="1440.3" y="1688.48">Acetivibrioides gen. nov.</text>
<text class="lb" x="1440.3" y="1715.26">Streptococcus</text>
<text class="lb" x="1440.3" y="1742.04">Negativibacillus</text>
<text class="lb" x="1440.3" y="1768.81">Rigidibacter gen. nov.</text>
<text class="lb" x="1440.3" y="1795.59">Helicobacter</text>
<text class="lb" x="1440.3" y="1822.37">Jeotgalicoccus</text>
<text class="lb" x="1440.3" y="1849.15">Murispiricella gen. nov.</text>
<text class="lb" x="1440.3" y="1875.93">Prevotella</text>
<text class="lb" x="1440.3" y="1902.7">Mycoplasma</text>
<text class="lb" x="1440.3" y="1929.48">Obesimuribacter gen. nov.</text>
<text class="lb" x="1440.3" y="1956.26">Obesitatistipes gen. nov.</text>
<text class="lb" x="1440.3" y="1983.04">Parasutterella</text>
<text class="lb" x="1440.3" y="2009.82">Rikenella</text>
<text class="lb" x="1440.3" y="2036.59">Gemella</text>
</g>
<path d="M1451.8 99.67H1464M1451.8 367.37H1464M1451.8 394.14H1464M1451.8 420.91H1464M1451.8 474.45H1464M1451.8 554.76H1464M1451.8 661.84H1464M1451.8 688.61H1464M1451.8 715.38H1464M1451.8 795.69H1464M1451.8 822.46H1464M1451.8 849.23H1464M1451.8 876H1464M1451.8 902.77H1464M1451.8 929.54H1464M1451.8 956.31H1464M1451.8 983.08H1464M1451.8 1009.85H1464M1451.8 1036.62H1464M1451.8 1063.39H1464M1451.8 1090.16H1464M1451.8 1116.93H1464M1451.8 1143.7H1464M1451.8 1170.47H1464M1451.8 1197.24H1464M1451.8 1224.01H1464M1451.8 1250.78H1464M1451.8 1277.55H1464M1451.8 1304.32H1464M1451.8 1331.09H1464M1451.8 1357.86H1464M1451.8 1384.63H1464M1451.8 1411.4H1464M1451.8 1438.17H1464M1451.8 1464.94H1464M1451.8 1491.71H1464M1451.8 1518.48H1464M1451.8 1545.25H1464M1451.8 1572.02H1464M1451.8 1598.79H1464M1451.8 1625.56H1464M1451.8 1652.33H1464M1451.8 1679.1H1464M1451.8 1705.87H1464M1451.8 1732.64H1464M1451.8 1759.41H1464M1451.8 1786.18H1464M1451.8 1812.95H1464M1451.8 1839.72H1464M1451.8 1866.49H1464M1451.8 1893.26H1464M1451.8 1920.03H1464M1451.8 1946.8H1464M1451.8 1973.57H1464M1451.8 2000.34H1464M1451.8 2027.11H1464" stroke="#074e65" stroke-width="3.5" fill="none"/>
<path d="M1451.8 72.9H1464M1451.8 126.44H1464M1451.8 153.21H1464M1451.8 179.98H1464M1451.8 206.75H1464M1451.8 233.52H1464M1451.8 260.29H1464M1451.8 287.06H1464M1451.8 313.83H1464M1451.8 340.6H1464M1451.8 447.68H1464M1451.8 501.22H1464M1451.8 527.99H1464M1451.8 581.53H1464M1451.8 608.3H1464M1451.8 635.07H1464M1451.8 742.15H1464M1451.8 768.92H1464" stroke="#466c9e" stroke-width="3.5" fill="none"/>
<path d="M1477.6 15V2049.5" clip-path="url(#cl-b)" stroke="#074e65" stroke-width="4.5" stroke-linecap="round" stroke-dasharray="8 12.690 0.01 12.690" stroke-dashoffset="26.910" fill="none"/>
<path d="M1686.1 15V2049.5" clip-path="url(#cl-b)" stroke="#074e65" stroke-width="4.5" stroke-linecap="round" stroke-dasharray="8 12.690 0.01 12.690" stroke-dashoffset="26.910" fill="none"/>
<path d="M1628.2 808V762" stroke="#000" stroke-width="4.5" fill="none"/>
<path d="M1628.2 742.7L1636.8 763.3H1619.6Z" fill="#000"/>
<text class="ann" x="1564.3" y="733.5" textLength="116.4" lengthAdjust="spacingAndGlyphs">Core-genera</text>
<path d="M1618.6 2048.6V2007" stroke="#000" stroke-width="4.7" fill="none"/>
<path d="M1618.6 1987.5L1627.2 2008.5H1610Z" fill="#000"/>
<text class="ann" x="1566.1" y="1972.5" textLength="107.3" lengthAdjust="spacingAndGlyphs">Pan-genera</text>
<path d="M1463.6 19.2V2066M1461.9 2053.2H1743M1742 2053.5H1990.8" stroke="#074e65" stroke-width="3.4" fill="none"/>
<path d="M1463.05 59.3V89.1M1463.05 113.1V357.6M1463.05 434.1V463M1463.05 490.6V543.1M1463.05 568.5V651.6M1463.05 729.4V782.6" stroke="#466c9e" stroke-width="2.2" fill="none"/>
<path d="M1519.3 2053V2066M1574.9 2053V2066M1630.5 2053V2066M1685.9 2053V2066M1780.3 2053V2064.9M1821.4 2053V2064.9M1863.5 2053V2064.9M1905.3 2053V2064.9M1947.2 2053V2064.9M1989.1 2053V2064.9" stroke="#074e65" stroke-width="3.4" fill="none"/>
<path d="M1462.5 808H1735.8" stroke="#000" stroke-width="4.3" fill="none"/>
<text class="tb fo" transform="translate(1474.1 2084.7) rotate(-45)">0</text>
<text class="tb fo" transform="translate(1530 2084.7) rotate(-45)">20</text>
<text class="tb fo" transform="translate(1585.6 2084.7) rotate(-45)">40</text>
<text class="tb fo" transform="translate(1641.2 2084.7) rotate(-45)">60</text>
<text class="tb fo" transform="translate(1696.6 2084.7) rotate(-45)">80</text>
<text class="tb fo" transform="translate(1751.7 2084.2) rotate(-45)">100</text>
<text class="tb" transform="translate(1793.7 2085.1) rotate(-45)"><tspan dy="1.6" letter-spacing="-1">−</tspan><tspan dy="-1.6">5</tspan></text>
<text class="tb" transform="translate(1834.8 2085.1) rotate(-45)"><tspan dy="1.6" letter-spacing="-1">−</tspan><tspan dy="-1.6">4</tspan></text>
<text class="tb" transform="translate(1876.9 2085.1) rotate(-45)"><tspan dy="1.6" letter-spacing="0.4">−</tspan><tspan dy="-1.6">3</tspan></text>
<text class="tb" transform="translate(1918.7 2085.1) rotate(-45)"><tspan dy="1.6" letter-spacing="0.4">−</tspan><tspan dy="-1.6">2</tspan></text>
<text class="tb" transform="translate(1960.6 2085.1) rotate(-45)"><tspan dy="1.6" letter-spacing="-1">−</tspan><tspan dy="-1.6">1</tspan></text>
<text class="tb" transform="translate(2000.9 2085.1) rotate(-45)">0</text>
<text x="1602.8" y="2147.3" style="font-size:20.5px;fill:#074e65;text-anchor:middle;stroke:#074e65;stroke-width:.3px">FO (%)</text>
<text x="1868" y="2147.3" style="font-size:21.3px;fill:#074e65;text-anchor:middle;stroke:#074e65;stroke-width:.3px">RA (log<tspan dy="5.6" style="font-size:14.8px">10</tspan><tspan dy="-5.6">)</tspan></text>
<g id="b-tri" fill="#581445" stroke="#000" stroke-width="1.3" stroke-linejoin="miter">
<path d="M1212.05 63.9V85.1L1260.45 74.5Z"/>
<path d="M1095.55 116.3V137.5L1143.95 126.9Z"/>
<path d="M1051.45 140.6V161.8L1099.85 151.2Z"/>
<path d="M1096.45 167.4V188.6L1144.85 178Z"/>
<path d="M1047.25 200V221.2L1095.65 210.6Z"/>
<path d="M1228.35 223.1V244.3L1276.75 233.7Z"/>
<path d="M1105.55 251V272.2L1153.95 261.6Z"/>
<path d="M987.35 273.1V294.3L1035.75 283.7Z"/>
<path d="M999.55 303.9V325.1L1047.95 314.5Z"/>
<path d="M1048.65 334.3V355.5L1097.05 344.9Z"/>
<path d="M1181.15 436.7V457.9L1229.55 447.3Z"/>
<path d="M1206.55 492.5V513.7L1254.95 503.1Z"/>
<path d="M970.85 520.3V541.5L1019.25 530.9Z"/>
<path d="M1054.75 571.7V592.9L1103.15 582.3Z"/>
<path d="M1212.35 597.9V619.1L1260.75 608.5Z"/>
<path d="M970.85 625.5V646.7L1019.25 636.1Z"/>
<path d="M1002.55 730.4V751.6L1050.95 741Z"/>
<path d="M1268.85 758.8V780L1317.25 769.4Z"/>
</g>
<g id="b-ra">
<path d="M1826.13 73.1H1877.85M1965.39 73.1H1980.08" stroke="#074e65" stroke-width="3.7" fill="none"/><path d="M1826.13 68.45V77.75M1980.08 68.45V77.75" stroke="#074e65" stroke-width="3.9" fill="none"/><rect x="1877.85" y="64.2" width="87.54" height="17.8" rx="1" fill="#ccddf3" stroke="#074e65" stroke-width="4.2"/><path d="M1945.3 64.2V82" stroke="#074e65" stroke-width="3.9" fill="none"/>
<path d="M1783.11 100.05H1867.8M1948.45 100.05H1973.34" stroke="#074e65" stroke-width="3.7" fill="none"/><path d="M1783.11 95.4V104.7M1973.34 95.4V104.7" stroke="#074e65" stroke-width="3.9" fill="none"/><rect x="1867.8" y="91.15" width="80.65" height="17.8" rx="1" fill="#ccddf3" stroke="#074e65" stroke-width="4.2"/><path d="M1911.58 91.15V108.95" stroke="#074e65" stroke-width="3.9" fill="none"/>
<path d="M1794.5 127H1858.36M1933.01 127H1949.35" stroke="#074e65" stroke-width="3.7" fill="none"/><path d="M1794.5 122.35V131.65M1949.35 122.35V131.65" stroke="#074e65" stroke-width="3.9" fill="none"/><rect x="1858.36" y="118.1" width="74.65" height="17.8" rx="1" fill="#ccddf3" stroke="#074e65" stroke-width="4.2"/><path d="M1900.93 118.1V135.9" stroke="#074e65" stroke-width="3.9" fill="none"/>
<path d="M1775.76 153.95H1828.38M1923.27 153.95H1957.75" stroke="#074e65" stroke-width="3.7" fill="none"/><path d="M1775.76 149.3V158.6M1957.75 149.3V158.6" stroke="#074e65" stroke-width="3.9" fill="none"/><rect x="1828.38" y="145.05" width="94.89" height="17.8" rx="1" fill="#ccddf3" stroke="#074e65" stroke-width="4.2"/><path d="M1893.89 145.05V162.85" stroke="#074e65" stroke-width="3.9" fill="none"/>
<path d="M1865.11 180.9H1895.99M1921.92 180.9H1949.05" stroke="#074e65" stroke-width="3.7" fill="none"/><path d="M1865.11 176.25V185.55M1949.05 176.25V185.55" stroke="#074e65" stroke-width="3.9" fill="none"/><rect x="1895.99" y="172" width="25.93" height="17.8" rx="1" fill="#ccddf3" stroke="#074e65" stroke-width="4.2"/><path d="M1910.38 172V189.8" stroke="#074e65" stroke-width="3.9" fill="none"/>
<path d="M1822.68 207.85H1861.06M1912.47 207.85H1962.54" stroke="#074e65" stroke-width="3.7" fill="none"/><path d="M1822.68 203.2V212.5M1962.54 203.2V212.5" stroke="#074e65" stroke-width="3.9" fill="none"/><rect x="1861.06" y="198.95" width="51.41" height="17.8" rx="1" fill="#ccddf3" stroke="#074e65" stroke-width="4.2"/><path d="M1887.14 198.95V216.75" stroke="#074e65" stroke-width="3.9" fill="none"/>
<path d="M1827.18 234.8H1866.01M1910.53 234.8H1953.85" stroke="#074e65" stroke-width="3.7" fill="none"/><path d="M1827.18 230.15V239.45M1953.85 230.15V239.45" stroke="#074e65" stroke-width="3.9" fill="none"/><rect x="1866.01" y="225.9" width="44.52" height="17.8" rx="1" fill="#ccddf3" stroke="#074e65" stroke-width="4.2"/><path d="M1889.39 225.9V243.7" stroke="#074e65" stroke-width="3.9" fill="none"/>
<path d="M1844.12 261.75H1879.8M1913.97 261.75H1938.86" stroke="#074e65" stroke-width="3.7" fill="none"/><path d="M1844.12 257.1V266.4M1938.86 257.1V266.4" stroke="#074e65" stroke-width="3.9" fill="none"/><rect x="1879.8" y="252.85" width="34.18" height="17.8" rx="1" fill="#ccddf3" stroke="#074e65" stroke-width="4.2"/><path d="M1899.88 252.85V270.65" stroke="#074e65" stroke-width="3.9" fill="none"/>
<path d="M1849.22 288.7H1879.35M1910.67 288.7H1936.91" stroke="#074e65" stroke-width="3.7" fill="none"/><path d="M1849.22 284.05V293.35M1936.91 284.05V293.35" stroke="#074e65" stroke-width="3.9" fill="none"/><rect x="1879.35" y="279.8" width="31.33" height="17.8" rx="1" fill="#ccddf3" stroke="#074e65" stroke-width="4.2"/><path d="M1893.59 279.8V297.6" stroke="#074e65" stroke-width="3.9" fill="none"/><circle cx="1800.5" cy="288.7" r="3.2" fill="#074e65"/>
<path d="M1805.89 315.65H1864.81M1906.93 315.65H1927.62" stroke="#074e65" stroke-width="3.7" fill="none"/><path d="M1805.89 311V320.3M1927.62 311V320.3" stroke="#074e65" stroke-width="3.9" fill="none"/><rect x="1864.81" y="306.75" width="42.12" height="17.8" rx="1" fill="#ccddf3" stroke="#074e65" stroke-width="4.2"/><path d="M1893.89 306.75V324.55" stroke="#074e65" stroke-width="3.9" fill="none"/><circle cx="1771.87" cy="315.65" r="3.2" fill="#074e65"/><circle cx="1783.41" cy="312.65" r="3.2" fill="#074e65"/><circle cx="1788.96" cy="318.65" r="3.2" fill="#074e65"/><circle cx="1791.95" cy="315.35" r="3.2" fill="#074e65"/><circle cx="1797.2" cy="309.35" r="3.2" fill="#074e65"/><circle cx="1797.8" cy="321.8" r="3.2" fill="#074e65"/>
<path d="M1818.19 342.6H1861.06M1890.29 342.6H1910.83" stroke="#074e65" stroke-width="3.7" fill="none"/><path d="M1818.19 337.95V347.25M1910.83 337.95V347.25" stroke="#074e65" stroke-width="3.9" fill="none"/><rect x="1861.06" y="333.7" width="29.23" height="17.8" rx="1" fill="#ccddf3" stroke="#074e65" stroke-width="4.2"/><path d="M1874.4 333.7V351.5" stroke="#074e65" stroke-width="3.9" fill="none"/>
<path d="M1781.76 369.55H1839.02M1879.5 369.55H1900.93" stroke="#074e65" stroke-width="3.7" fill="none"/><path d="M1781.76 364.9V374.2M1900.93 364.9V374.2" stroke="#074e65" stroke-width="3.9" fill="none"/><rect x="1839.02" y="360.65" width="40.47" height="17.8" rx="1" fill="#ccddf3" stroke="#074e65" stroke-width="4.2"/><path d="M1861.66 360.65V378.45" stroke="#074e65" stroke-width="3.9" fill="none"/>
<path d="M1823.88 396.5H1861.81M1888.94 396.5H1904.38" stroke="#074e65" stroke-width="3.7" fill="none"/><path d="M1823.88 391.85V401.15M1904.38 391.85V401.15" stroke="#074e65" stroke-width="3.9" fill="none"/><rect x="1861.81" y="387.6" width="27.13" height="17.8" rx="1" fill="#ccddf3" stroke="#074e65" stroke-width="4.2"/><path d="M1879.35 387.6V405.4" stroke="#074e65" stroke-width="3.9" fill="none"/><circle cx="1776.51" cy="396.5" r="3.2" fill="#074e65"/><circle cx="1783.56" cy="396.5" r="3.2" fill="#074e65"/><circle cx="1811.74" cy="396.5" r="3.2" fill="#074e65"/>
<path d="M1807.39 423.45H1844.87M1894.19 423.45H1937.81" stroke="#074e65" stroke-width="3.7" fill="none"/><path d="M1807.39 418.8V428.1M1937.81 418.8V428.1" stroke="#074e65" stroke-width="3.9" fill="none"/><rect x="1844.87" y="414.55" width="49.32" height="17.8" rx="1" fill="#ccddf3" stroke="#074e65" stroke-width="4.2"/><path d="M1875.9 414.55V432.35" stroke="#074e65" stroke-width="3.9" fill="none"/>
<path d="M1794.5 450.4H1842.77M1876.2 450.4H1911.88" stroke="#074e65" stroke-width="3.7" fill="none"/><path d="M1794.5 445.75V455.05M1911.88 445.75V455.05" stroke="#074e65" stroke-width="3.9" fill="none"/><rect x="1842.77" y="441.5" width="33.43" height="17.8" rx="1" fill="#ccddf3" stroke="#074e65" stroke-width="4.2"/><path d="M1859.86 441.5V459.3" stroke="#074e65" stroke-width="3.9" fill="none"/><circle cx="1773.67" cy="443.8" r="3.2" fill="#074e65"/><circle cx="1771.87" cy="450.4" r="3.2" fill="#074e65"/><circle cx="1778.01" cy="456.1" r="3.2" fill="#074e65"/><circle cx="1785.51" cy="450.4" r="3.2" fill="#074e65"/><circle cx="1785.51" cy="456.4" r="3.2" fill="#074e65"/><circle cx="1787.46" cy="443.8" r="3.2" fill="#074e65"/>
<path d="M1815.94 477.35H1851.77M1877.7 477.35H1901.83" stroke="#074e65" stroke-width="3.7" fill="none"/><path d="M1815.94 472.7V482M1901.83 472.7V482" stroke="#074e65" stroke-width="3.9" fill="none"/><rect x="1851.77" y="468.45" width="25.93" height="17.8" rx="1" fill="#ccddf3" stroke="#074e65" stroke-width="4.2"/><path d="M1864.66 468.45V486.25" stroke="#074e65" stroke-width="3.9" fill="none"/><circle cx="1770.07" cy="477.35" r="3.2" fill="#074e65"/><circle cx="1779.96" cy="474.05" r="3.2" fill="#074e65"/><circle cx="1781.16" cy="480.35" r="3.2" fill="#074e65"/>
<path d="M1799.45 504.3H1834.08M1867.95 504.3H1894.19" stroke="#074e65" stroke-width="3.7" fill="none"/><path d="M1799.45 499.65V508.95M1894.19 499.65V508.95" stroke="#074e65" stroke-width="3.9" fill="none"/><rect x="1834.08" y="495.4" width="33.88" height="17.8" rx="1" fill="#ccddf3" stroke="#074e65" stroke-width="4.2"/><path d="M1850.12 495.4V513.2" stroke="#074e65" stroke-width="3.9" fill="none"/><circle cx="1763.47" cy="507.3" r="3.2" fill="#074e65"/><circle cx="1765.42" cy="501" r="3.2" fill="#074e65"/>
<path d="M1770.22 531.25H1822.83M1892.99 531.25H1932.41" stroke="#074e65" stroke-width="3.7" fill="none"/><path d="M1770.22 526.6V535.9M1932.41 526.6V535.9" stroke="#074e65" stroke-width="3.9" fill="none"/><rect x="1822.83" y="522.35" width="70.15" height="17.8" rx="1" fill="#ccddf3" stroke="#074e65" stroke-width="4.2"/><path d="M1857.91 522.35V540.15" stroke="#074e65" stroke-width="3.9" fill="none"/>
<path d="M1763.02 558.2H1786.41M1884.44 558.2H1913.82" stroke="#8e7d34" stroke-width="3.7" fill="none"/><path d="M1763.02 553.55V562.85M1913.82 553.55V562.85" stroke="#8e7d34" stroke-width="3.9" fill="none"/><rect x="1786.41" y="549.3" width="98.03" height="17.8" rx="1" fill="#ebe5c8" stroke="#8e7d34" stroke-width="4.2"/><path d="M1856.71 549.3V567.1" stroke="#8e7d34" stroke-width="3.9" fill="none"/>
<path d="M1757.18 585.15H1806.05M1889.69 585.15H1937.06" stroke="#074e65" stroke-width="3.7" fill="none"/><path d="M1757.18 580.5V589.8M1937.06 580.5V589.8" stroke="#074e65" stroke-width="3.9" fill="none"/><rect x="1806.05" y="576.25" width="83.64" height="17.8" rx="1" fill="#ccddf3" stroke="#074e65" stroke-width="4.2"/><path d="M1862.41 576.25V594.05" stroke="#074e65" stroke-width="3.9" fill="none"/>
<path d="M1756.43 612.1H1813.39M1886.99 612.1H1930.61" stroke="#074e65" stroke-width="3.7" fill="none"/><path d="M1756.43 607.45V616.75M1930.61 607.45V616.75" stroke="#074e65" stroke-width="3.9" fill="none"/><rect x="1813.39" y="603.2" width="73.6" height="17.8" rx="1" fill="#ccddf3" stroke="#074e65" stroke-width="4.2"/><path d="M1861.66 603.2V621" stroke="#074e65" stroke-width="3.9" fill="none"/>
<path d="M1762.72 639.05H1815.04M1889.24 639.05H1929.86" stroke="#074e65" stroke-width="3.7" fill="none"/><path d="M1762.72 634.4V643.7M1929.86 634.4V643.7" stroke="#074e65" stroke-width="3.9" fill="none"/><rect x="1815.04" y="630.15" width="74.2" height="17.8" rx="1" fill="#ccddf3" stroke="#074e65" stroke-width="4.2"/><path d="M1859.11 630.15V647.95" stroke="#074e65" stroke-width="3.9" fill="none"/>
<path d="M1763.47 666H1810.09M1874.25 666H1925.37" stroke="#074e65" stroke-width="3.7" fill="none"/><path d="M1763.47 661.35V670.65M1925.37 661.35V670.65" stroke="#074e65" stroke-width="3.9" fill="none"/><rect x="1810.09" y="657.1" width="64.16" height="17.8" rx="1" fill="#ccddf3" stroke="#074e65" stroke-width="4.2"/><path d="M1854.91 657.1V674.9" stroke="#074e65" stroke-width="3.9" fill="none"/>
<path d="M1768.42 692.95H1802.15M1910.67 692.95H1944.4" stroke="#074e65" stroke-width="3.7" fill="none"/><path d="M1768.42 688.3V697.6M1944.4 688.3V697.6" stroke="#074e65" stroke-width="3.9" fill="none"/><rect x="1802.15" y="684.05" width="108.53" height="17.8" rx="1" fill="#ccddf3" stroke="#074e65" stroke-width="4.2"/><path d="M1856.71 684.05V701.85" stroke="#074e65" stroke-width="3.9" fill="none"/>
<path d="M1773.96 719.9H1812.04M1896.73 719.9H1934.36" stroke="#8e7d34" stroke-width="3.7" fill="none"/><path d="M1773.96 715.25V724.55M1934.36 715.25V724.55" stroke="#8e7d34" stroke-width="3.9" fill="none"/><rect x="1812.04" y="711" width="84.69" height="17.8" rx="1" fill="#ebe5c8" stroke="#8e7d34" stroke-width="4.2"/><path d="M1849.97 711V728.8" stroke="#8e7d34" stroke-width="3.9" fill="none"/>
<path d="M1763.47 746.85H1818.04M1892.24 746.85H1917.87" stroke="#074e65" stroke-width="3.7" fill="none"/><path d="M1763.47 742.2V751.5M1917.87 742.2V751.5" stroke="#074e65" stroke-width="3.9" fill="none"/><rect x="1818.04" y="737.95" width="74.2" height="17.8" rx="1" fill="#ccddf3" stroke="#074e65" stroke-width="4.2"/><path d="M1857.16 737.95V755.75" stroke="#074e65" stroke-width="3.9" fill="none"/>
<path d="M1757.18 773.8H1797.35M1900.78 773.8H1945.6" stroke="#074e65" stroke-width="3.7" fill="none"/><path d="M1757.18 769.15V778.45M1945.6 769.15V778.45" stroke="#074e65" stroke-width="3.9" fill="none"/><rect x="1797.35" y="764.9" width="103.43" height="17.8" rx="1" fill="#ccddf3" stroke="#074e65" stroke-width="4.2"/><path d="M1881.45 764.9V782.7" stroke="#074e65" stroke-width="3.9" fill="none"/>
<path d="M1756.43 800.75H1828.38M1877.25 800.75H1902.88" stroke="#074e65" stroke-width="3.7" fill="none"/><path d="M1756.43 796.1V805.4M1902.88 796.1V805.4" stroke="#074e65" stroke-width="3.9" fill="none"/><rect x="1828.38" y="791.85" width="48.87" height="17.8" rx="1" fill="#ccddf3" stroke="#074e65" stroke-width="4.2"/><path d="M1855.66 791.85V809.65" stroke="#074e65" stroke-width="3.9" fill="none"/>
<path d="M1782.51 827.7H1828.38M1863.46 827.7H1897.33" stroke="#074e65" stroke-width="3.7" fill="none"/><path d="M1782.51 823.05V832.35M1897.33 823.05V832.35" stroke="#074e65" stroke-width="3.9" fill="none"/><rect x="1828.38" y="818.8" width="35.08" height="17.8" rx="1" fill="#ccddf3" stroke="#074e65" stroke-width="4.2"/><path d="M1848.92 818.8V836.6" stroke="#074e65" stroke-width="3.9" fill="none"/><circle cx="1766.77" cy="827.7" r="3.2" fill="#074e65"/>
<path d="M1772.02 854.65H1807.09M1851.01 854.65H1893.89" stroke="#074e65" stroke-width="3.7" fill="none"/><path d="M1772.02 850V859.3M1893.89 850V859.3" stroke="#074e65" stroke-width="3.9" fill="none"/><rect x="1807.09" y="845.75" width="43.92" height="17.8" rx="1" fill="#ccddf3" stroke="#074e65" stroke-width="4.2"/><path d="M1825.38 845.75V863.55" stroke="#074e65" stroke-width="3.9" fill="none"/>
<path d="M1799.15 881.6H1834.08M1858.81 881.6H1884.89" stroke="#074e65" stroke-width="3.7" fill="none"/><path d="M1799.15 876.95V886.25M1884.89 876.95V886.25" stroke="#074e65" stroke-width="3.9" fill="none"/><rect x="1834.08" y="872.7" width="24.73" height="17.8" rx="1" fill="#ccddf3" stroke="#074e65" stroke-width="4.2"/><path d="M1848.17 872.7V890.5" stroke="#074e65" stroke-width="3.9" fill="none"/><circle cx="1769.17" cy="881.6" r="3.2" fill="#074e65"/><circle cx="1788.21" cy="881.6" r="3.2" fill="#074e65"/>
<path d="M1786.11 908.55H1832.13M1863.01 908.55H1895.09" stroke="#8e7d34" stroke-width="3.7" fill="none"/><path d="M1786.11 903.9V913.2M1895.09 903.9V913.2" stroke="#8e7d34" stroke-width="3.9" fill="none"/><rect x="1832.13" y="899.65" width="30.88" height="17.8" rx="1" fill="#ebe5c8" stroke="#8e7d34" stroke-width="4.2"/><path d="M1851.91 899.65V917.45" stroke="#8e7d34" stroke-width="3.9" fill="none"/><circle cx="1769.92" cy="908.55" r="3.2" fill="#8b8b3a"/><circle cx="1777.41" cy="908.55" r="3.2" fill="#8b8b3a"/>
<path d="M1763.02 935.5H1814.89M1861.51 935.5H1891.64" stroke="#074e65" stroke-width="3.7" fill="none"/><path d="M1763.02 930.85V940.15M1891.64 930.85V940.15" stroke="#074e65" stroke-width="3.9" fill="none"/><rect x="1814.89" y="926.6" width="46.62" height="17.8" rx="1" fill="#ccddf3" stroke="#074e65" stroke-width="4.2"/><path d="M1842.92 926.6V944.4" stroke="#074e65" stroke-width="3.9" fill="none"/>
<path d="M1784.46 962.45H1826.28M1863.76 962.45H1911.43" stroke="#074e65" stroke-width="3.7" fill="none"/><path d="M1784.46 957.8V967.1M1911.43 957.8V967.1" stroke="#074e65" stroke-width="3.9" fill="none"/><rect x="1826.28" y="953.55" width="37.47" height="17.8" rx="1" fill="#ccddf3" stroke="#074e65" stroke-width="4.2"/><path d="M1849.97 953.55V971.35" stroke="#074e65" stroke-width="3.9" fill="none"/><circle cx="1756.43" cy="962.45" r="3.2" fill="#074e65"/>
<path d="M1785.51 989.4H1821.04M1848.02 989.4H1868.85" stroke="#074e65" stroke-width="3.7" fill="none"/><path d="M1785.51 984.75V994.05M1868.85 984.75V994.05" stroke="#074e65" stroke-width="3.9" fill="none"/><rect x="1821.04" y="980.5" width="26.98" height="17.8" rx="1" fill="#ccddf3" stroke="#074e65" stroke-width="4.2"/><path d="M1837.97 980.5V998.3" stroke="#074e65" stroke-width="3.9" fill="none"/><circle cx="1773.96" cy="992.4" r="3.2" fill="#074e65"/><circle cx="1776.66" cy="986.1" r="3.2" fill="#074e65"/>
<path d="M1763.47 1016.35H1779.81M1860.76 1016.35H1959.84" stroke="#074e65" stroke-width="3.7" fill="none"/><path d="M1763.47 1011.7V1021M1959.84 1011.7V1021" stroke="#074e65" stroke-width="3.9" fill="none"/><rect x="1779.81" y="1007.45" width="80.95" height="17.8" rx="1" fill="#ccddf3" stroke="#074e65" stroke-width="4.2"/><path d="M1792.7 1007.45V1025.25" stroke="#074e65" stroke-width="3.9" fill="none"/>
<path d="M1757.18 1043.3H1793.9M1870.05 1043.3H1936.16" stroke="#074e65" stroke-width="3.7" fill="none"/><path d="M1757.18 1038.65V1047.95M1936.16 1038.65V1047.95" stroke="#074e65" stroke-width="3.9" fill="none"/><rect x="1793.9" y="1034.4" width="76.15" height="17.8" rx="1" fill="#ccddf3" stroke="#074e65" stroke-width="4.2"/><path d="M1826.43 1034.4V1052.2" stroke="#074e65" stroke-width="3.9" fill="none"/>
<path d="M1765.42 1070.25H1782.36M1855.96 1070.25H1947.1" stroke="#074e65" stroke-width="3.7" fill="none"/><path d="M1765.42 1065.6V1074.9M1947.1 1065.6V1074.9" stroke="#074e65" stroke-width="3.9" fill="none"/><rect x="1782.36" y="1061.35" width="73.6" height="17.8" rx="1" fill="#ccddf3" stroke="#074e65" stroke-width="4.2"/><path d="M1792.7 1061.35V1079.15" stroke="#074e65" stroke-width="3.9" fill="none"/>
<path d="M1775.91 1097.2H1797.35M1855.51 1097.2H1912.62" stroke="#8e7d34" stroke-width="3.7" fill="none"/><path d="M1775.91 1092.55V1101.85M1912.62 1092.55V1101.85" stroke="#8e7d34" stroke-width="3.9" fill="none"/><rect x="1797.35" y="1088.3" width="58.16" height="17.8" rx="1" fill="#ebe5c8" stroke="#8e7d34" stroke-width="4.2"/><path d="M1824.93 1088.3V1106.1" stroke="#8e7d34" stroke-width="3.9" fill="none"/>
<path d="M1756.43 1124.15H1794.05M1877.25 1124.15H1906.63" stroke="#074e65" stroke-width="3.7" fill="none"/><path d="M1756.43 1119.5V1128.8M1906.63 1119.5V1128.8" stroke="#074e65" stroke-width="3.9" fill="none"/><rect x="1794.05" y="1115.25" width="83.19" height="17.8" rx="1" fill="#ccddf3" stroke="#074e65" stroke-width="4.2"/><path d="M1841.87 1115.25V1133.05" stroke="#074e65" stroke-width="3.9" fill="none"/>
<path d="M1756.43 1151.1H1777.41M1849.96 1151.1H1951.9" stroke="#074e65" stroke-width="3.7" fill="none"/><path d="M1756.43 1146.45V1155.75M1951.9 1146.45V1155.75" stroke="#074e65" stroke-width="3.9" fill="none"/><rect x="1777.41" y="1142.2" width="72.55" height="17.8" rx="1" fill="#ccddf3" stroke="#074e65" stroke-width="4.2"/><path d="M1802 1142.2V1160" stroke="#074e65" stroke-width="3.9" fill="none"/><circle cx="1959.84" cy="1151.1" r="3.2" fill="#074e65"/>
<path d="M1753.28 1178.05H1780.86M1890.44 1178.05H1918.17" stroke="#8e7d34" stroke-width="3.7" fill="none"/><path d="M1753.28 1173.4V1182.7M1918.17 1173.4V1182.7" stroke="#8e7d34" stroke-width="3.9" fill="none"/><rect x="1780.86" y="1169.15" width="109.58" height="17.8" rx="1" fill="#ebe5c8" stroke="#8e7d34" stroke-width="4.2"/><path d="M1846.97 1169.15V1186.95" stroke="#8e7d34" stroke-width="3.9" fill="none"/>
<path d="M1757.18 1205H1826.13M1874.25 1205H1932.86" stroke="#074e65" stroke-width="3.7" fill="none"/><path d="M1757.18 1200.35V1209.65M1932.86 1200.35V1209.65" stroke="#074e65" stroke-width="3.9" fill="none"/><rect x="1826.13" y="1196.1" width="48.12" height="17.8" rx="1" fill="#ccddf3" stroke="#074e65" stroke-width="4.2"/><path d="M1853.41 1196.1V1213.9" stroke="#074e65" stroke-width="3.9" fill="none"/>
<path d="M1756.43 1231.95H1804.85M1872.75 1231.95H1906.33" stroke="#074e65" stroke-width="3.7" fill="none"/><path d="M1756.43 1227.3V1236.6M1906.33 1227.3V1236.6" stroke="#074e65" stroke-width="3.9" fill="none"/><rect x="1804.85" y="1223.05" width="67.9" height="17.8" rx="1" fill="#ccddf3" stroke="#074e65" stroke-width="4.2"/><path d="M1845.92 1223.05V1240.85" stroke="#074e65" stroke-width="3.9" fill="none"/>
<path d="M1756.43 1258.9H1781.91M1830.33 1258.9H1878.15" stroke="#074e65" stroke-width="3.7" fill="none"/><path d="M1756.43 1254.25V1263.55M1878.15 1254.25V1263.55" stroke="#074e65" stroke-width="3.9" fill="none"/><rect x="1781.91" y="1250" width="48.42" height="17.8" rx="1" fill="#ccddf3" stroke="#074e65" stroke-width="4.2"/><path d="M1806.49 1250V1267.8" stroke="#074e65" stroke-width="3.9" fill="none"/>
<path d="M1757.18 1285.85H1778.16M1893.29 1285.85H1961.34" stroke="#074e65" stroke-width="3.7" fill="none"/><path d="M1757.18 1281.2V1290.5M1961.34 1281.2V1290.5" stroke="#074e65" stroke-width="3.9" fill="none"/><rect x="1778.16" y="1276.95" width="115.12" height="17.8" rx="1" fill="#ccddf3" stroke="#074e65" stroke-width="4.2"/><path d="M1796 1276.95V1294.75" stroke="#074e65" stroke-width="3.9" fill="none"/>
<path d="M1765.42 1312.8H1805.15M1831.83 1312.8H1859.41" stroke="#074e65" stroke-width="3.7" fill="none"/><path d="M1765.42 1308.15V1317.45M1859.41 1308.15V1317.45" stroke="#074e65" stroke-width="3.9" fill="none"/><rect x="1805.15" y="1303.9" width="26.68" height="17.8" rx="1" fill="#ccddf3" stroke="#074e65" stroke-width="4.2"/><path d="M1815.94 1303.9V1321.7" stroke="#074e65" stroke-width="3.9" fill="none"/><circle cx="1877.85" cy="1315.5" r="3.2" fill="#074e65"/><circle cx="1880.1" cy="1309.5" r="3.2" fill="#074e65"/>
<path d="M1756.43 1339.75H1773.07M1891.04 1339.75H1925.67" stroke="#074e65" stroke-width="3.7" fill="none"/><path d="M1756.43 1335.1V1344.4M1925.67 1335.1V1344.4" stroke="#074e65" stroke-width="3.9" fill="none"/><rect x="1773.07" y="1330.85" width="117.97" height="17.8" rx="1" fill="#ccddf3" stroke="#074e65" stroke-width="4.2"/><path d="M1834.98 1330.85V1348.65" stroke="#074e65" stroke-width="3.9" fill="none"/>
<path d="M1768.42 1366.7H1788.06M1927.01 1366.7H1944.85" stroke="#8e7d34" stroke-width="3.7" fill="none"/><path d="M1768.42 1362.05V1371.35M1944.85 1362.05V1371.35" stroke="#8e7d34" stroke-width="3.9" fill="none"/><rect x="1788.06" y="1357.8" width="138.96" height="17.8" rx="1" fill="#ebe5c8" stroke="#8e7d34" stroke-width="4.2"/><path d="M1820.88 1357.8V1375.6" stroke="#8e7d34" stroke-width="3.9" fill="none"/>
<path d="M1764.97 1393.65H1829.28M1872.45 1393.65H1893.89" stroke="#074e65" stroke-width="3.7" fill="none"/><path d="M1764.97 1389V1398.3M1893.89 1389V1398.3" stroke="#074e65" stroke-width="3.9" fill="none"/><rect x="1829.28" y="1384.75" width="43.17" height="17.8" rx="1" fill="#ccddf3" stroke="#074e65" stroke-width="4.2"/><path d="M1854.46 1384.75V1402.55" stroke="#074e65" stroke-width="3.9" fill="none"/><circle cx="1763.47" cy="1393.65" r="3.2" fill="#074e65"/>
<path d="M1763.47 1420.6H1815.04M1857.01 1420.6H1910.38" stroke="#8e7d34" stroke-width="3.7" fill="none"/><path d="M1763.47 1415.95V1425.25M1910.38 1415.95V1425.25" stroke="#8e7d34" stroke-width="3.9" fill="none"/><rect x="1815.04" y="1411.7" width="41.97" height="17.8" rx="1" fill="#ebe5c8" stroke="#8e7d34" stroke-width="4.2"/><path d="M1834.68 1411.7V1429.5" stroke="#8e7d34" stroke-width="3.9" fill="none"/>
<path d="M1785.96 1447.55H1823.88M1856.26 1447.55H1874.85" stroke="#8e7d34" stroke-width="3.7" fill="none"/><path d="M1785.96 1442.9V1452.2M1874.85 1442.9V1452.2" stroke="#8e7d34" stroke-width="3.9" fill="none"/><rect x="1823.88" y="1438.65" width="32.38" height="17.8" rx="1" fill="#ebe5c8" stroke="#8e7d34" stroke-width="4.2"/><path d="M1836.92 1438.65V1456.45" stroke="#8e7d34" stroke-width="3.9" fill="none"/><circle cx="1769.92" cy="1447.55" r="3.2" fill="#8e7d34"/>
<path d="M1766.92 1474.5H1779.81M1897.48 1474.5H1926.87" stroke="#074e65" stroke-width="3.7" fill="none"/><path d="M1766.92 1469.85V1479.15M1926.87 1469.85V1479.15" stroke="#074e65" stroke-width="3.9" fill="none"/><rect x="1779.81" y="1465.6" width="117.67" height="17.8" rx="1" fill="#ccddf3" stroke="#074e65" stroke-width="4.2"/><path d="M1793.75 1465.6V1483.4" stroke="#074e65" stroke-width="3.9" fill="none"/>
<path d="M1769.17 1501.45H1782.36M1833.03 1501.45H1900.63" stroke="#074e65" stroke-width="3.7" fill="none"/><path d="M1769.17 1496.8V1506.1M1900.63 1496.8V1506.1" stroke="#074e65" stroke-width="3.9" fill="none"/><rect x="1782.36" y="1492.55" width="50.66" height="17.8" rx="1" fill="#ccddf3" stroke="#074e65" stroke-width="4.2"/><path d="M1794.5 1492.55V1510.35" stroke="#074e65" stroke-width="3.9" fill="none"/><circle cx="1910.83" cy="1504.45" r="3.2" fill="#074e65"/><circle cx="1914.12" cy="1498.15" r="3.2" fill="#074e65"/><circle cx="1958.35" cy="1501.15" r="3.2" fill="#074e65"/><circle cx="1958.64" cy="1507.45" r="3.2" fill="#074e65"/><circle cx="1962.54" cy="1495" r="3.2" fill="#074e65"/><circle cx="1967.79" cy="1501.15" r="3.2" fill="#074e65"/>
<path d="M1765.42 1528.4H1809.79M1850.26 1528.4H1905.88" stroke="#074e65" stroke-width="3.7" fill="none"/><path d="M1765.42 1523.75V1533.05M1905.88 1523.75V1533.05" stroke="#074e65" stroke-width="3.9" fill="none"/><rect x="1809.79" y="1519.5" width="40.47" height="17.8" rx="1" fill="#ccddf3" stroke="#074e65" stroke-width="4.2"/><path d="M1820.13 1519.5V1537.3" stroke="#074e65" stroke-width="3.9" fill="none"/>
<path d="M1767.67 1555.35H1813.09M1869.75 1555.35H1888.34" stroke="#074e65" stroke-width="3.7" fill="none"/><path d="M1767.67 1550.7V1560M1888.34 1550.7V1560" stroke="#074e65" stroke-width="3.9" fill="none"/><rect x="1813.09" y="1546.45" width="56.66" height="17.8" rx="1" fill="#ccddf3" stroke="#074e65" stroke-width="4.2"/><path d="M1852.36 1546.45V1564.25" stroke="#074e65" stroke-width="3.9" fill="none"/>
<path d="M1766.77 1582.3H1786.41M1860.01 1582.3H1928.66" stroke="#074e65" stroke-width="3.7" fill="none"/><path d="M1766.77 1577.65V1586.95M1928.66 1577.65V1586.95" stroke="#074e65" stroke-width="3.9" fill="none"/><rect x="1786.41" y="1573.4" width="73.6" height="17.8" rx="1" fill="#ccddf3" stroke="#074e65" stroke-width="4.2"/><path d="M1834.98 1573.4V1591.2" stroke="#074e65" stroke-width="3.9" fill="none"/>
<path d="M1763.02 1609.25H1773.67M1811.74 1609.25H1817.44" stroke="#8e7d34" stroke-width="3.7" fill="none"/><path d="M1763.02 1604.6V1613.9M1817.44 1604.6V1613.9" stroke="#8e7d34" stroke-width="3.9" fill="none"/><rect x="1773.67" y="1600.35" width="38.07" height="17.8" rx="1" fill="#ebe5c8" stroke="#8e7d34" stroke-width="4.2"/><path d="M1785.66 1600.35V1618.15" stroke="#8e7d34" stroke-width="3.9" fill="none"/><circle cx="1890.89" cy="1612.55" r="3.2" fill="#8e7d34"/><circle cx="1893.44" cy="1606.25" r="3.2" fill="#8e7d34"/><circle cx="1898.38" cy="1602.95" r="3.2" fill="#8e7d34"/><circle cx="1898.83" cy="1612.55" r="3.2" fill="#8e7d34"/><circle cx="1916.37" cy="1609.25" r="3.2" fill="#8e7d34"/><circle cx="1940.66" cy="1609.25" r="3.2" fill="#8e7d34"/>
<path d="M1767.67 1636.2H1782.36M1823.73 1636.2H1831.98" stroke="#8e7d34" stroke-width="3.7" fill="none"/><path d="M1767.67 1631.55V1640.85M1831.98 1631.55V1640.85" stroke="#8e7d34" stroke-width="3.9" fill="none"/><rect x="1782.36" y="1627.3" width="41.37" height="17.8" rx="1" fill="#ebe5c8" stroke="#8e7d34" stroke-width="4.2"/><path d="M1794.5 1627.3V1645.1" stroke="#8e7d34" stroke-width="3.9" fill="none"/><circle cx="1902.88" cy="1636.2" r="3.2" fill="#8e7d34"/><circle cx="1939.91" cy="1632.9" r="3.2" fill="#8e7d34"/><circle cx="1942.61" cy="1639.5" r="3.2" fill="#8e7d34"/><circle cx="1950.85" cy="1639.5" r="3.2" fill="#8e7d34"/><circle cx="1955.05" cy="1632.9" r="3.2" fill="#8e7d34"/>
<path d="M1766.77 1663.15H1798.1M1880.99 1663.15H1912.62" stroke="#8e7d34" stroke-width="3.7" fill="none"/><path d="M1766.77 1658.5V1667.8M1912.62 1658.5V1667.8" stroke="#8e7d34" stroke-width="3.9" fill="none"/><rect x="1798.1" y="1654.25" width="82.89" height="17.8" rx="1" fill="#ebe5c8" stroke="#8e7d34" stroke-width="4.2"/><path d="M1843.97 1654.25V1672.05" stroke="#8e7d34" stroke-width="3.9" fill="none"/>
<path d="M1766.47 1690.1H1774.12M1867.05 1690.1H1887.44" stroke="#074e65" stroke-width="3.7" fill="none"/><path d="M1766.47 1685.45V1694.75M1887.44 1685.45V1694.75" stroke="#074e65" stroke-width="3.9" fill="none"/><rect x="1774.12" y="1681.2" width="92.94" height="17.8" rx="1" fill="#ccddf3" stroke="#074e65" stroke-width="4.2"/><path d="M1829.43 1681.2V1699" stroke="#074e65" stroke-width="3.9" fill="none"/>
<path d="M1767.67 1717.05H1778.16M1834.97 1717.05H1901.08" stroke="#074e65" stroke-width="3.7" fill="none"/><path d="M1767.67 1712.4V1721.7M1901.08 1712.4V1721.7" stroke="#074e65" stroke-width="3.9" fill="none"/><rect x="1778.16" y="1708.15" width="56.81" height="17.8" rx="1" fill="#ccddf3" stroke="#074e65" stroke-width="4.2"/><path d="M1812.64 1708.15V1725.95" stroke="#074e65" stroke-width="3.9" fill="none"/>
<path d="M1767.67 1744H1813.39M1875.3 1744H1898.38" stroke="#074e65" stroke-width="3.7" fill="none"/><path d="M1767.67 1739.35V1748.65M1898.38 1739.35V1748.65" stroke="#074e65" stroke-width="3.9" fill="none"/><rect x="1813.39" y="1735.1" width="61.91" height="17.8" rx="1" fill="#ccddf3" stroke="#074e65" stroke-width="4.2"/><path d="M1864.66 1735.1V1752.9" stroke="#074e65" stroke-width="3.9" fill="none"/>
<path d="M1772.92 1770.95H1797.35M1841.27 1770.95H1887.59" stroke="#074e65" stroke-width="3.7" fill="none"/><path d="M1772.92 1766.3V1775.6M1887.59 1766.3V1775.6" stroke="#074e65" stroke-width="3.9" fill="none"/><rect x="1797.35" y="1762.05" width="43.92" height="17.8" rx="1" fill="#ccddf3" stroke="#074e65" stroke-width="4.2"/><path d="M1821.18 1762.05V1779.85" stroke="#074e65" stroke-width="3.9" fill="none"/>
<path d="M1756.43 1797.9H1792.55M1879.8 1797.9H1909.63" stroke="#8e7d34" stroke-width="3.7" fill="none"/><path d="M1756.43 1793.25V1802.55M1909.63 1793.25V1802.55" stroke="#8e7d34" stroke-width="3.9" fill="none"/><rect x="1792.55" y="1789" width="87.24" height="17.8" rx="1" fill="#ebe5c8" stroke="#8e7d34" stroke-width="4.2"/><path d="M1847.87 1789V1806.8" stroke="#8e7d34" stroke-width="3.9" fill="none"/>
<path d="M1772.02 1824.85H1819.39M1857.46 1824.85H1886.84" stroke="#8e7d34" stroke-width="3.7" fill="none"/><path d="M1772.02 1820.2V1829.5M1886.84 1820.2V1829.5" stroke="#8e7d34" stroke-width="3.9" fill="none"/><rect x="1819.39" y="1815.95" width="38.07" height="17.8" rx="1" fill="#ebe5c8" stroke="#8e7d34" stroke-width="4.2"/><path d="M1842.17 1815.95V1833.75" stroke="#8e7d34" stroke-width="3.9" fill="none"/>
<path d="M1767.52 1851.8H1779.81" stroke="#074e65" stroke-width="3.7" fill="none"/><path d="M1767.52 1847.15V1856.45" stroke="#074e65" stroke-width="3.9" fill="none"/><rect x="1779.81" y="1842.9" width="43.02" height="17.8" rx="1" fill="#ccddf3" stroke="#074e65" stroke-width="4.2"/><path d="M1788.96 1842.9V1860.7" stroke="#074e65" stroke-width="3.9" fill="none"/><circle cx="1901.08" cy="1851.8" r="3.2" fill="#074e65"/><circle cx="1910.83" cy="1848.5" r="3.2" fill="#074e65"/><circle cx="1914.87" cy="1854.8" r="3.2" fill="#074e65"/><circle cx="1922.67" cy="1851.8" r="3.2" fill="#074e65"/>
<path d="M1781.76 1878.75H1819.09M1854.31 1878.75H1864.66" stroke="#8e7d34" stroke-width="3.7" fill="none"/><path d="M1781.76 1874.1V1883.4M1864.66 1874.1V1883.4" stroke="#8e7d34" stroke-width="3.9" fill="none"/><rect x="1819.09" y="1869.85" width="35.22" height="17.8" rx="1" fill="#ebe5c8" stroke="#8e7d34" stroke-width="4.2"/><path d="M1840.97 1869.85V1887.65" stroke="#8e7d34" stroke-width="3.9" fill="none"/>
<path d="M1763.47 1905.7H1768.42" stroke="#8e7d34" stroke-width="3.7" fill="none"/><path d="M1763.47 1901.05V1910.35" stroke="#8e7d34" stroke-width="3.9" fill="none"/><rect x="1768.42" y="1896.8" width="33.13" height="17.8" rx="1" fill="#ebe5c8" stroke="#8e7d34" stroke-width="4.2"/><path d="M1775.01 1896.8V1914.6" stroke="#8e7d34" stroke-width="3.9" fill="none"/><circle cx="1899.58" cy="1905.4" r="3.2" fill="#8e7d34"/><circle cx="1930.31" cy="1905.4" r="3.2" fill="#8e7d34"/>
<path d="M1779.21 1932.65H1785.36M1880.24 1932.65H1893.89" stroke="#074e65" stroke-width="3.7" fill="none"/><path d="M1779.21 1928V1937.3M1893.89 1928V1937.3" stroke="#074e65" stroke-width="3.9" fill="none"/><rect x="1785.36" y="1923.75" width="94.89" height="17.8" rx="1" fill="#ccddf3" stroke="#074e65" stroke-width="4.2"/><path d="M1850.86 1923.75V1941.55" stroke="#074e65" stroke-width="3.9" fill="none"/>
<path d="M1776.96 1959.6H1814.14M1883.24 1959.6H1912.62" stroke="#074e65" stroke-width="3.7" fill="none"/><path d="M1776.96 1954.95V1964.25M1912.62 1954.95V1964.25" stroke="#074e65" stroke-width="3.9" fill="none"/><rect x="1814.14" y="1950.7" width="69.1" height="17.8" rx="1" fill="#ccddf3" stroke="#074e65" stroke-width="4.2"/><path d="M1847.87 1950.7V1968.5" stroke="#074e65" stroke-width="3.9" fill="none"/>
<path d="M1767.67 1986.55H1775.17M1860.76 1986.55H1879.65" stroke="#8e7d34" stroke-width="3.7" fill="none"/><path d="M1767.67 1981.9V1991.2M1879.65 1981.9V1991.2" stroke="#8e7d34" stroke-width="3.9" fill="none"/><rect x="1775.17" y="1977.65" width="85.59" height="17.8" rx="1" fill="#ebe5c8" stroke="#8e7d34" stroke-width="4.2"/><path d="M1851.91 1977.65V1995.45" stroke="#8e7d34" stroke-width="3.9" fill="none"/>
<path d="M1769.47 2013.5H1792.1M1876.05 2013.5H1879.65" stroke="#8e7d34" stroke-width="3.7" fill="none"/><path d="M1769.47 2008.85V2018.15M1879.65 2008.85V2018.15" stroke="#8e7d34" stroke-width="3.9" fill="none"/><rect x="1792.1" y="2004.6" width="83.94" height="17.8" rx="1" fill="#ebe5c8" stroke="#8e7d34" stroke-width="4.2"/><path d="M1874.4 2004.6V2022.4" stroke="#8e7d34" stroke-width="3.9" fill="none"/>
<path d="M1768.12 2040.45H1772.62M1861.81 2040.45H1868.4" stroke="#8e7d34" stroke-width="3.7" fill="none"/><path d="M1768.12 2035.8V2045.1M1868.4 2035.8V2045.1" stroke="#8e7d34" stroke-width="3.9" fill="none"/><rect x="1772.62" y="2031.55" width="89.19" height="17.8" rx="1" fill="#ebe5c8" stroke="#8e7d34" stroke-width="4.2"/><path d="M1860.16 2031.55V2049.35" stroke="#8e7d34" stroke-width="3.9" fill="none"/>
<path d="M1859.3 40V2048" clip-path="url(#cl-rb)" stroke="#074e65" stroke-width="4.4" stroke-linecap="round" stroke-dasharray="8 12.370 0.01 12.370" stroke-dashoffset="27.320" fill="none"/>
</g>
<text class="pl" x="964.5" y="30.6">b</text>
</g>
</svg>
</body></html>
